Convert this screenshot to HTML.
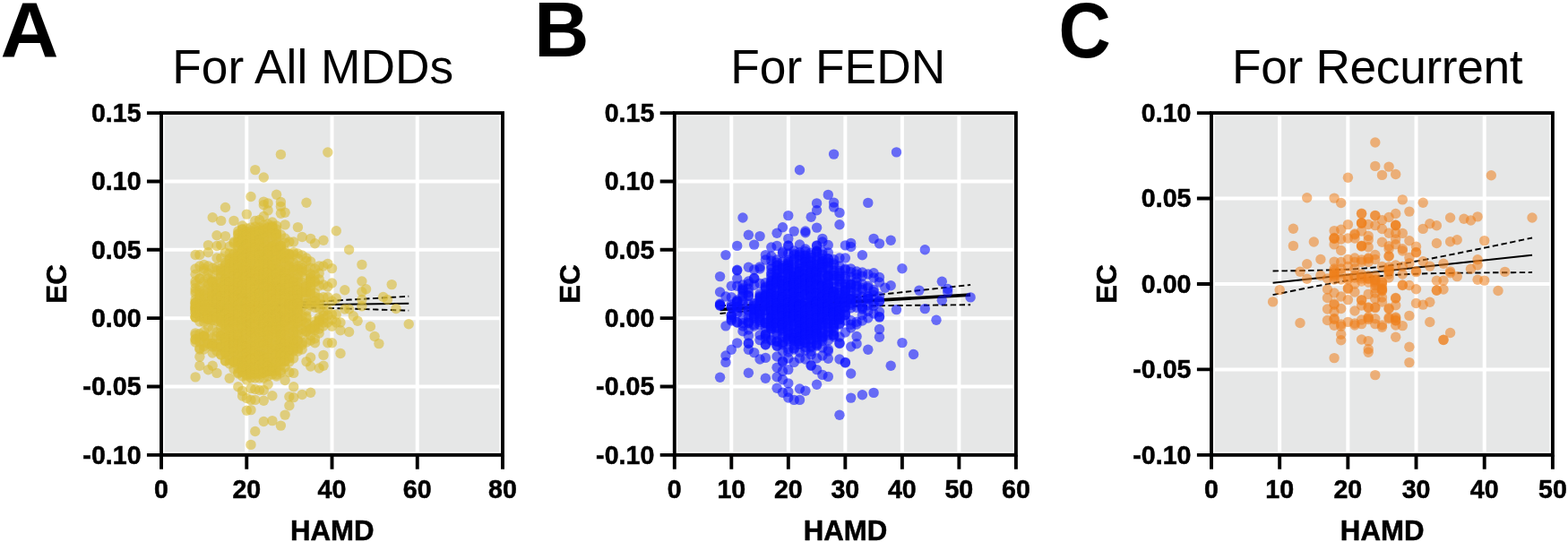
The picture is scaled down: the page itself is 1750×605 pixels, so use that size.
<!DOCTYPE html>
<html lang="en"><head><meta charset="utf-8"><title>EC vs HAMD</title>
<style>html,body{margin:0;padding:0;background:#fff}body{width:1750px;height:605px;overflow:hidden}svg{display:block}</style>
</head><body>
<svg width="1750" height="605" viewBox="0 0 1750 605" font-family='"Liberation Sans", sans-serif'>
<rect width="1750" height="605" fill="#fff"/>
<g id="panelA">
<rect x="183.45" y="129.50" width="374.15" height="374.95" fill="#e6e7e7"/>
<path d="M275.29 126.10V507.85M370.52 126.10V507.85M465.76 126.10V507.85M180.05 431.50H561.00M180.05 355.15H561.00M180.05 278.80H561.00M180.05 202.45H561.00" stroke="#fff" stroke-width="4" fill="none"/>
<path d="M218.15 341.93 L456.24 338.70" stroke="#000" stroke-width="2.0" fill="none"/>
<path d="M218.15 338.56 L224.10 338.72 L230.05 338.87 L236.00 339.02 L241.95 339.16 L247.91 339.29 L253.86 339.40 L259.81 339.50 L265.76 339.57 L271.72 339.61 L277.67 339.60 L283.62 339.56 L289.57 339.46 L295.53 339.32 L301.48 339.14 L307.43 338.92 L313.38 338.67 L319.33 338.40 L325.29 338.12 L331.24 337.82 L337.19 337.51 L343.14 337.20 L349.10 336.88 L355.05 336.56 L361.00 336.23 L366.95 335.90 L372.91 335.57 L378.86 335.23 L384.81 334.89 L390.76 334.56 L396.72 334.22 L402.67 333.88 L408.62 333.53 L414.57 333.19 L420.52 332.85 L426.48 332.51 L432.43 332.16 L438.38 331.82 L444.33 331.47 L450.29 331.13 L456.24 330.78" stroke="#000" stroke-width="1.9" fill="none" stroke-dasharray="6.4 3.5"/>
<path d="M218.15 345.30 L224.10 344.98 L230.05 344.66 L236.00 344.35 L241.95 344.05 L247.91 343.76 L253.86 343.48 L259.81 343.23 L265.76 343.00 L271.72 342.80 L277.67 342.64 L283.62 342.52 L289.57 342.46 L295.53 342.44 L301.48 342.46 L307.43 342.52 L313.38 342.61 L319.33 342.71 L325.29 342.84 L331.24 342.97 L337.19 343.12 L343.14 343.27 L349.10 343.43 L355.05 343.59 L361.00 343.76 L366.95 343.93 L372.91 344.10 L378.86 344.27 L384.81 344.45 L390.76 344.62 L396.72 344.80 L402.67 344.98 L408.62 345.16 L414.57 345.34 L420.52 345.53 L426.48 345.71 L432.43 345.89 L438.38 346.07 L444.33 346.26 L450.29 346.44 L456.24 346.63" stroke="#000" stroke-width="1.9" fill="none" stroke-dasharray="6.4 3.5"/>
<g fill="#dbbc36" fill-opacity="0.6"><circle cx="218.1" cy="300.0" r="5.7"/><circle cx="218.1" cy="306.3" r="5.7"/><circle cx="218.1" cy="314.0" r="5.7"/><circle cx="218.1" cy="316.7" r="5.7"/><circle cx="218.1" cy="321.8" r="5.7"/><circle cx="218.1" cy="325.0" r="5.7"/><circle cx="218.1" cy="327.7" r="5.7"/><circle cx="218.1" cy="334.5" r="5.7"/><circle cx="218.1" cy="337.9" r="5.7"/><circle cx="218.1" cy="338.0" r="5.7"/><circle cx="218.1" cy="341.9" r="5.7"/><circle cx="218.1" cy="342.9" r="5.7"/><circle cx="218.1" cy="345.1" r="5.7"/><circle cx="218.1" cy="345.5" r="5.7"/><circle cx="218.1" cy="349.5" r="5.7"/><circle cx="218.1" cy="353.8" r="5.7"/><circle cx="218.1" cy="354.0" r="5.7"/><circle cx="218.1" cy="354.1" r="5.7"/><circle cx="218.1" cy="371.9" r="5.7"/><circle cx="218.1" cy="374.0" r="5.7"/><circle cx="218.1" cy="378.5" r="5.7"/><circle cx="218.1" cy="382.0" r="5.7"/><circle cx="222.9" cy="297.0" r="5.7"/><circle cx="222.9" cy="310.9" r="5.7"/><circle cx="222.9" cy="311.0" r="5.7"/><circle cx="222.9" cy="319.9" r="5.7"/><circle cx="222.9" cy="324.4" r="5.7"/><circle cx="222.9" cy="328.0" r="5.7"/><circle cx="222.9" cy="329.9" r="5.7"/><circle cx="222.9" cy="332.5" r="5.7"/><circle cx="222.9" cy="334.2" r="5.7"/><circle cx="222.9" cy="339.2" r="5.7"/><circle cx="222.9" cy="342.1" r="5.7"/><circle cx="222.9" cy="342.8" r="5.7"/><circle cx="222.9" cy="344.2" r="5.7"/><circle cx="222.9" cy="345.7" r="5.7"/><circle cx="222.9" cy="353.2" r="5.7"/><circle cx="222.9" cy="359.0" r="5.7"/><circle cx="222.9" cy="372.8" r="5.7"/><circle cx="222.9" cy="377.4" r="5.7"/><circle cx="222.9" cy="382.0" r="5.7"/><circle cx="222.9" cy="388.7" r="5.7"/><circle cx="222.9" cy="390.0" r="5.7"/><circle cx="227.7" cy="300.0" r="5.7"/><circle cx="227.7" cy="302.5" r="5.7"/><circle cx="227.7" cy="314.0" r="5.7"/><circle cx="227.7" cy="324.5" r="5.7"/><circle cx="227.7" cy="328.5" r="5.7"/><circle cx="227.7" cy="333.4" r="5.7"/><circle cx="227.7" cy="338.2" r="5.7"/><circle cx="227.7" cy="343.9" r="5.7"/><circle cx="227.7" cy="344.9" r="5.7"/><circle cx="227.7" cy="346.9" r="5.7"/><circle cx="227.7" cy="347.8" r="5.7"/><circle cx="227.7" cy="351.8" r="5.7"/><circle cx="227.7" cy="354.0" r="5.7"/><circle cx="227.7" cy="355.5" r="5.7"/><circle cx="227.7" cy="359.4" r="5.7"/><circle cx="227.7" cy="370.2" r="5.7"/><circle cx="227.7" cy="374.4" r="5.7"/><circle cx="227.7" cy="375.5" r="5.7"/><circle cx="227.7" cy="375.5" r="5.7"/><circle cx="227.7" cy="382.0" r="5.7"/><circle cx="227.7" cy="386.5" r="5.7"/><circle cx="227.7" cy="390.0" r="5.7"/><circle cx="232.4" cy="297.0" r="5.7"/><circle cx="232.4" cy="305.0" r="5.7"/><circle cx="232.4" cy="311.0" r="5.7"/><circle cx="232.4" cy="315.9" r="5.7"/><circle cx="232.4" cy="317.9" r="5.7"/><circle cx="232.4" cy="323.3" r="5.7"/><circle cx="232.4" cy="327.3" r="5.7"/><circle cx="232.4" cy="332.6" r="5.7"/><circle cx="232.4" cy="336.6" r="5.7"/><circle cx="232.4" cy="338.6" r="5.7"/><circle cx="232.4" cy="340.0" r="5.7"/><circle cx="232.4" cy="341.0" r="5.7"/><circle cx="232.4" cy="343.5" r="5.7"/><circle cx="232.4" cy="344.6" r="5.7"/><circle cx="232.4" cy="351.6" r="5.7"/><circle cx="232.4" cy="352.0" r="5.7"/><circle cx="232.4" cy="353.0" r="5.7"/><circle cx="232.4" cy="354.4" r="5.7"/><circle cx="232.4" cy="356.1" r="5.7"/><circle cx="232.4" cy="356.6" r="5.7"/><circle cx="232.4" cy="364.8" r="5.7"/><circle cx="232.4" cy="376.0" r="5.7"/><circle cx="232.4" cy="382.9" r="5.7"/><circle cx="232.4" cy="384.0" r="5.7"/><circle cx="237.2" cy="299.0" r="5.7"/><circle cx="237.2" cy="307.0" r="5.7"/><circle cx="237.2" cy="313.0" r="5.7"/><circle cx="237.2" cy="314.6" r="5.7"/><circle cx="237.2" cy="314.9" r="5.7"/><circle cx="237.2" cy="315.3" r="5.7"/><circle cx="237.2" cy="320.8" r="5.7"/><circle cx="237.2" cy="324.9" r="5.7"/><circle cx="237.2" cy="327.6" r="5.7"/><circle cx="237.2" cy="330.4" r="5.7"/><circle cx="237.2" cy="330.5" r="5.7"/><circle cx="237.2" cy="333.7" r="5.7"/><circle cx="237.2" cy="334.8" r="5.7"/><circle cx="237.2" cy="340.0" r="5.7"/><circle cx="237.2" cy="343.6" r="5.7"/><circle cx="237.2" cy="344.9" r="5.7"/><circle cx="237.2" cy="347.9" r="5.7"/><circle cx="237.2" cy="354.3" r="5.7"/><circle cx="237.2" cy="356.0" r="5.7"/><circle cx="237.2" cy="366.5" r="5.7"/><circle cx="237.2" cy="377.2" r="5.7"/><circle cx="237.2" cy="383.5" r="5.7"/><circle cx="237.2" cy="383.6" r="5.7"/><circle cx="237.2" cy="386.0" r="5.7"/><circle cx="237.2" cy="387.1" r="5.7"/><circle cx="237.2" cy="394.0" r="5.7"/><circle cx="242.0" cy="288.0" r="5.7"/><circle cx="242.0" cy="298.2" r="5.7"/><circle cx="242.0" cy="302.0" r="5.7"/><circle cx="242.0" cy="314.3" r="5.7"/><circle cx="242.0" cy="318.9" r="5.7"/><circle cx="242.0" cy="321.2" r="5.7"/><circle cx="242.0" cy="321.8" r="5.7"/><circle cx="242.0" cy="322.6" r="5.7"/><circle cx="242.0" cy="324.7" r="5.7"/><circle cx="242.0" cy="327.9" r="5.7"/><circle cx="242.0" cy="328.4" r="5.7"/><circle cx="242.0" cy="328.5" r="5.7"/><circle cx="242.0" cy="329.5" r="5.7"/><circle cx="242.0" cy="332.6" r="5.7"/><circle cx="242.0" cy="333.3" r="5.7"/><circle cx="242.0" cy="334.1" r="5.7"/><circle cx="242.0" cy="335.1" r="5.7"/><circle cx="242.0" cy="335.6" r="5.7"/><circle cx="242.0" cy="337.8" r="5.7"/><circle cx="242.0" cy="340.0" r="5.7"/><circle cx="242.0" cy="343.8" r="5.7"/><circle cx="242.0" cy="349.9" r="5.7"/><circle cx="242.0" cy="353.5" r="5.7"/><circle cx="242.0" cy="353.7" r="5.7"/><circle cx="242.0" cy="358.3" r="5.7"/><circle cx="242.0" cy="370.7" r="5.7"/><circle cx="242.0" cy="375.4" r="5.7"/><circle cx="242.0" cy="384.0" r="5.7"/><circle cx="242.0" cy="387.1" r="5.7"/><circle cx="242.0" cy="392.0" r="5.7"/><circle cx="246.7" cy="288.0" r="5.7"/><circle cx="246.7" cy="299.7" r="5.7"/><circle cx="246.7" cy="302.0" r="5.7"/><circle cx="246.7" cy="305.3" r="5.7"/><circle cx="246.7" cy="308.1" r="5.7"/><circle cx="246.7" cy="309.9" r="5.7"/><circle cx="246.7" cy="315.1" r="5.7"/><circle cx="246.7" cy="320.5" r="5.7"/><circle cx="246.7" cy="321.4" r="5.7"/><circle cx="246.7" cy="324.6" r="5.7"/><circle cx="246.7" cy="330.6" r="5.7"/><circle cx="246.7" cy="330.6" r="5.7"/><circle cx="246.7" cy="331.1" r="5.7"/><circle cx="246.7" cy="335.8" r="5.7"/><circle cx="246.7" cy="338.9" r="5.7"/><circle cx="246.7" cy="340.8" r="5.7"/><circle cx="246.7" cy="341.0" r="5.7"/><circle cx="246.7" cy="341.5" r="5.7"/><circle cx="246.7" cy="343.2" r="5.7"/><circle cx="246.7" cy="345.9" r="5.7"/><circle cx="246.7" cy="348.2" r="5.7"/><circle cx="246.7" cy="349.6" r="5.7"/><circle cx="246.7" cy="350.4" r="5.7"/><circle cx="246.7" cy="351.2" r="5.7"/><circle cx="246.7" cy="353.2" r="5.7"/><circle cx="246.7" cy="354.0" r="5.7"/><circle cx="246.7" cy="357.4" r="5.7"/><circle cx="246.7" cy="359.8" r="5.7"/><circle cx="246.7" cy="359.9" r="5.7"/><circle cx="246.7" cy="365.2" r="5.7"/><circle cx="246.7" cy="370.8" r="5.7"/><circle cx="246.7" cy="374.6" r="5.7"/><circle cx="246.7" cy="375.2" r="5.7"/><circle cx="246.7" cy="380.0" r="5.7"/><circle cx="246.7" cy="385.8" r="5.7"/><circle cx="246.7" cy="387.8" r="5.7"/><circle cx="246.7" cy="388.0" r="5.7"/><circle cx="246.7" cy="395.9" r="5.7"/><circle cx="246.7" cy="396.0" r="5.7"/><circle cx="251.5" cy="282.0" r="5.7"/><circle cx="251.5" cy="293.2" r="5.7"/><circle cx="251.5" cy="296.0" r="5.7"/><circle cx="251.5" cy="298.1" r="5.7"/><circle cx="251.5" cy="302.5" r="5.7"/><circle cx="251.5" cy="306.9" r="5.7"/><circle cx="251.5" cy="311.7" r="5.7"/><circle cx="251.5" cy="312.0" r="5.7"/><circle cx="251.5" cy="314.7" r="5.7"/><circle cx="251.5" cy="318.1" r="5.7"/><circle cx="251.5" cy="318.5" r="5.7"/><circle cx="251.5" cy="323.3" r="5.7"/><circle cx="251.5" cy="323.7" r="5.7"/><circle cx="251.5" cy="326.6" r="5.7"/><circle cx="251.5" cy="330.3" r="5.7"/><circle cx="251.5" cy="333.1" r="5.7"/><circle cx="251.5" cy="336.6" r="5.7"/><circle cx="251.5" cy="336.8" r="5.7"/><circle cx="251.5" cy="338.4" r="5.7"/><circle cx="251.5" cy="342.4" r="5.7"/><circle cx="251.5" cy="347.5" r="5.7"/><circle cx="251.5" cy="347.8" r="5.7"/><circle cx="251.5" cy="349.2" r="5.7"/><circle cx="251.5" cy="349.7" r="5.7"/><circle cx="251.5" cy="350.1" r="5.7"/><circle cx="251.5" cy="350.7" r="5.7"/><circle cx="251.5" cy="351.0" r="5.7"/><circle cx="251.5" cy="351.6" r="5.7"/><circle cx="251.5" cy="357.2" r="5.7"/><circle cx="251.5" cy="357.3" r="5.7"/><circle cx="251.5" cy="357.4" r="5.7"/><circle cx="251.5" cy="359.2" r="5.7"/><circle cx="251.5" cy="362.3" r="5.7"/><circle cx="251.5" cy="363.3" r="5.7"/><circle cx="251.5" cy="367.6" r="5.7"/><circle cx="251.5" cy="371.2" r="5.7"/><circle cx="251.5" cy="376.9" r="5.7"/><circle cx="251.5" cy="377.5" r="5.7"/><circle cx="251.5" cy="378.4" r="5.7"/><circle cx="251.5" cy="379.9" r="5.7"/><circle cx="251.5" cy="382.3" r="5.7"/><circle cx="251.5" cy="383.0" r="5.7"/><circle cx="251.5" cy="387.1" r="5.7"/><circle cx="251.5" cy="393.0" r="5.7"/><circle cx="251.5" cy="393.1" r="5.7"/><circle cx="251.5" cy="395.0" r="5.7"/><circle cx="251.5" cy="402.6" r="5.7"/><circle cx="251.5" cy="403.0" r="5.7"/><circle cx="256.2" cy="275.0" r="5.7"/><circle cx="256.2" cy="282.9" r="5.7"/><circle cx="256.2" cy="288.7" r="5.7"/><circle cx="256.2" cy="289.0" r="5.7"/><circle cx="256.2" cy="291.9" r="5.7"/><circle cx="256.2" cy="294.9" r="5.7"/><circle cx="256.2" cy="298.8" r="5.7"/><circle cx="256.2" cy="299.7" r="5.7"/><circle cx="256.2" cy="303.1" r="5.7"/><circle cx="256.2" cy="303.4" r="5.7"/><circle cx="256.2" cy="310.1" r="5.7"/><circle cx="256.2" cy="314.1" r="5.7"/><circle cx="256.2" cy="314.4" r="5.7"/><circle cx="256.2" cy="314.8" r="5.7"/><circle cx="256.2" cy="314.9" r="5.7"/><circle cx="256.2" cy="316.8" r="5.7"/><circle cx="256.2" cy="320.0" r="5.7"/><circle cx="256.2" cy="323.4" r="5.7"/><circle cx="256.2" cy="324.0" r="5.7"/><circle cx="256.2" cy="327.7" r="5.7"/><circle cx="256.2" cy="327.8" r="5.7"/><circle cx="256.2" cy="329.1" r="5.7"/><circle cx="256.2" cy="330.2" r="5.7"/><circle cx="256.2" cy="334.8" r="5.7"/><circle cx="256.2" cy="338.2" r="5.7"/><circle cx="256.2" cy="338.5" r="5.7"/><circle cx="256.2" cy="342.1" r="5.7"/><circle cx="256.2" cy="342.2" r="5.7"/><circle cx="256.2" cy="343.6" r="5.7"/><circle cx="256.2" cy="349.5" r="5.7"/><circle cx="256.2" cy="349.8" r="5.7"/><circle cx="256.2" cy="352.0" r="5.7"/><circle cx="256.2" cy="354.9" r="5.7"/><circle cx="256.2" cy="355.3" r="5.7"/><circle cx="256.2" cy="355.3" r="5.7"/><circle cx="256.2" cy="355.6" r="5.7"/><circle cx="256.2" cy="355.7" r="5.7"/><circle cx="256.2" cy="359.2" r="5.7"/><circle cx="256.2" cy="360.2" r="5.7"/><circle cx="256.2" cy="360.5" r="5.7"/><circle cx="256.2" cy="362.1" r="5.7"/><circle cx="256.2" cy="363.4" r="5.7"/><circle cx="256.2" cy="367.3" r="5.7"/><circle cx="256.2" cy="367.9" r="5.7"/><circle cx="256.2" cy="369.3" r="5.7"/><circle cx="256.2" cy="375.0" r="5.7"/><circle cx="256.2" cy="379.3" r="5.7"/><circle cx="256.2" cy="384.8" r="5.7"/><circle cx="256.2" cy="385.7" r="5.7"/><circle cx="256.2" cy="388.6" r="5.7"/><circle cx="256.2" cy="389.7" r="5.7"/><circle cx="256.2" cy="393.3" r="5.7"/><circle cx="256.2" cy="398.0" r="5.7"/><circle cx="256.2" cy="401.9" r="5.7"/><circle cx="256.2" cy="406.0" r="5.7"/><circle cx="261.0" cy="270.0" r="5.7"/><circle cx="261.0" cy="271.5" r="5.7"/><circle cx="261.0" cy="282.8" r="5.7"/><circle cx="261.0" cy="284.0" r="5.7"/><circle cx="261.0" cy="287.7" r="5.7"/><circle cx="261.0" cy="289.7" r="5.7"/><circle cx="261.0" cy="292.4" r="5.7"/><circle cx="261.0" cy="292.5" r="5.7"/><circle cx="261.0" cy="295.4" r="5.7"/><circle cx="261.0" cy="298.8" r="5.7"/><circle cx="261.0" cy="300.7" r="5.7"/><circle cx="261.0" cy="303.0" r="5.7"/><circle cx="261.0" cy="308.1" r="5.7"/><circle cx="261.0" cy="312.0" r="5.7"/><circle cx="261.0" cy="313.3" r="5.7"/><circle cx="261.0" cy="318.8" r="5.7"/><circle cx="261.0" cy="321.5" r="5.7"/><circle cx="261.0" cy="323.2" r="5.7"/><circle cx="261.0" cy="323.6" r="5.7"/><circle cx="261.0" cy="323.9" r="5.7"/><circle cx="261.0" cy="327.9" r="5.7"/><circle cx="261.0" cy="329.3" r="5.7"/><circle cx="261.0" cy="329.5" r="5.7"/><circle cx="261.0" cy="332.5" r="5.7"/><circle cx="261.0" cy="332.5" r="5.7"/><circle cx="261.0" cy="332.7" r="5.7"/><circle cx="261.0" cy="333.2" r="5.7"/><circle cx="261.0" cy="335.4" r="5.7"/><circle cx="261.0" cy="337.1" r="5.7"/><circle cx="261.0" cy="340.9" r="5.7"/><circle cx="261.0" cy="342.4" r="5.7"/><circle cx="261.0" cy="344.5" r="5.7"/><circle cx="261.0" cy="346.6" r="5.7"/><circle cx="261.0" cy="351.9" r="5.7"/><circle cx="261.0" cy="355.0" r="5.7"/><circle cx="261.0" cy="357.4" r="5.7"/><circle cx="261.0" cy="358.4" r="5.7"/><circle cx="261.0" cy="358.9" r="5.7"/><circle cx="261.0" cy="359.5" r="5.7"/><circle cx="261.0" cy="361.7" r="5.7"/><circle cx="261.0" cy="367.1" r="5.7"/><circle cx="261.0" cy="373.0" r="5.7"/><circle cx="261.0" cy="373.6" r="5.7"/><circle cx="261.0" cy="374.0" r="5.7"/><circle cx="261.0" cy="376.1" r="5.7"/><circle cx="261.0" cy="377.8" r="5.7"/><circle cx="261.0" cy="380.2" r="5.7"/><circle cx="261.0" cy="380.6" r="5.7"/><circle cx="261.0" cy="381.8" r="5.7"/><circle cx="261.0" cy="382.7" r="5.7"/><circle cx="261.0" cy="384.6" r="5.7"/><circle cx="261.0" cy="384.9" r="5.7"/><circle cx="261.0" cy="385.3" r="5.7"/><circle cx="261.0" cy="387.3" r="5.7"/><circle cx="261.0" cy="388.8" r="5.7"/><circle cx="261.0" cy="389.6" r="5.7"/><circle cx="261.0" cy="392.3" r="5.7"/><circle cx="261.0" cy="392.8" r="5.7"/><circle cx="261.0" cy="398.8" r="5.7"/><circle cx="261.0" cy="403.0" r="5.7"/><circle cx="261.0" cy="404.0" r="5.7"/><circle cx="261.0" cy="404.3" r="5.7"/><circle cx="261.0" cy="412.0" r="5.7"/><circle cx="265.8" cy="258.0" r="5.7"/><circle cx="265.8" cy="260.8" r="5.7"/><circle cx="265.8" cy="262.0" r="5.7"/><circle cx="265.8" cy="266.1" r="5.7"/><circle cx="265.8" cy="269.7" r="5.7"/><circle cx="265.8" cy="270.7" r="5.7"/><circle cx="265.8" cy="274.9" r="5.7"/><circle cx="265.8" cy="279.1" r="5.7"/><circle cx="265.8" cy="281.6" r="5.7"/><circle cx="265.8" cy="285.8" r="5.7"/><circle cx="265.8" cy="286.5" r="5.7"/><circle cx="265.8" cy="291.4" r="5.7"/><circle cx="265.8" cy="294.4" r="5.7"/><circle cx="265.8" cy="295.8" r="5.7"/><circle cx="265.8" cy="297.5" r="5.7"/><circle cx="265.8" cy="298.3" r="5.7"/><circle cx="265.8" cy="299.4" r="5.7"/><circle cx="265.8" cy="304.9" r="5.7"/><circle cx="265.8" cy="305.0" r="5.7"/><circle cx="265.8" cy="306.0" r="5.7"/><circle cx="265.8" cy="306.1" r="5.7"/><circle cx="265.8" cy="308.9" r="5.7"/><circle cx="265.8" cy="309.3" r="5.7"/><circle cx="265.8" cy="310.3" r="5.7"/><circle cx="265.8" cy="315.5" r="5.7"/><circle cx="265.8" cy="315.8" r="5.7"/><circle cx="265.8" cy="317.0" r="5.7"/><circle cx="265.8" cy="319.5" r="5.7"/><circle cx="265.8" cy="320.1" r="5.7"/><circle cx="265.8" cy="321.0" r="5.7"/><circle cx="265.8" cy="322.6" r="5.7"/><circle cx="265.8" cy="324.5" r="5.7"/><circle cx="265.8" cy="324.7" r="5.7"/><circle cx="265.8" cy="325.6" r="5.7"/><circle cx="265.8" cy="329.5" r="5.7"/><circle cx="265.8" cy="329.9" r="5.7"/><circle cx="265.8" cy="331.8" r="5.7"/><circle cx="265.8" cy="334.5" r="5.7"/><circle cx="265.8" cy="334.6" r="5.7"/><circle cx="265.8" cy="340.3" r="5.7"/><circle cx="265.8" cy="340.9" r="5.7"/><circle cx="265.8" cy="341.1" r="5.7"/><circle cx="265.8" cy="345.6" r="5.7"/><circle cx="265.8" cy="346.2" r="5.7"/><circle cx="265.8" cy="349.5" r="5.7"/><circle cx="265.8" cy="350.8" r="5.7"/><circle cx="265.8" cy="351.1" r="5.7"/><circle cx="265.8" cy="352.6" r="5.7"/><circle cx="265.8" cy="355.2" r="5.7"/><circle cx="265.8" cy="358.2" r="5.7"/><circle cx="265.8" cy="360.4" r="5.7"/><circle cx="265.8" cy="364.8" r="5.7"/><circle cx="265.8" cy="368.1" r="5.7"/><circle cx="265.8" cy="370.1" r="5.7"/><circle cx="265.8" cy="372.7" r="5.7"/><circle cx="265.8" cy="373.5" r="5.7"/><circle cx="265.8" cy="376.1" r="5.7"/><circle cx="265.8" cy="377.1" r="5.7"/><circle cx="265.8" cy="381.3" r="5.7"/><circle cx="265.8" cy="383.7" r="5.7"/><circle cx="265.8" cy="383.8" r="5.7"/><circle cx="265.8" cy="384.5" r="5.7"/><circle cx="265.8" cy="389.6" r="5.7"/><circle cx="265.8" cy="396.2" r="5.7"/><circle cx="265.8" cy="400.8" r="5.7"/><circle cx="265.8" cy="401.7" r="5.7"/><circle cx="265.8" cy="403.9" r="5.7"/><circle cx="265.8" cy="406.1" r="5.7"/><circle cx="265.8" cy="411.0" r="5.7"/><circle cx="265.8" cy="415.9" r="5.7"/><circle cx="265.8" cy="417.0" r="5.7"/><circle cx="270.5" cy="252.0" r="5.7"/><circle cx="270.5" cy="255.9" r="5.7"/><circle cx="270.5" cy="256.0" r="5.7"/><circle cx="270.5" cy="262.3" r="5.7"/><circle cx="270.5" cy="266.7" r="5.7"/><circle cx="270.5" cy="268.0" r="5.7"/><circle cx="270.5" cy="269.4" r="5.7"/><circle cx="270.5" cy="272.2" r="5.7"/><circle cx="270.5" cy="276.4" r="5.7"/><circle cx="270.5" cy="278.7" r="5.7"/><circle cx="270.5" cy="279.6" r="5.7"/><circle cx="270.5" cy="281.2" r="5.7"/><circle cx="270.5" cy="283.9" r="5.7"/><circle cx="270.5" cy="287.4" r="5.7"/><circle cx="270.5" cy="287.7" r="5.7"/><circle cx="270.5" cy="289.5" r="5.7"/><circle cx="270.5" cy="292.0" r="5.7"/><circle cx="270.5" cy="295.2" r="5.7"/><circle cx="270.5" cy="296.6" r="5.7"/><circle cx="270.5" cy="300.1" r="5.7"/><circle cx="270.5" cy="301.7" r="5.7"/><circle cx="270.5" cy="303.2" r="5.7"/><circle cx="270.5" cy="304.2" r="5.7"/><circle cx="270.5" cy="307.1" r="5.7"/><circle cx="270.5" cy="312.1" r="5.7"/><circle cx="270.5" cy="313.9" r="5.7"/><circle cx="270.5" cy="317.6" r="5.7"/><circle cx="270.5" cy="317.7" r="5.7"/><circle cx="270.5" cy="319.0" r="5.7"/><circle cx="270.5" cy="321.4" r="5.7"/><circle cx="270.5" cy="323.6" r="5.7"/><circle cx="270.5" cy="324.1" r="5.7"/><circle cx="270.5" cy="325.2" r="5.7"/><circle cx="270.5" cy="327.4" r="5.7"/><circle cx="270.5" cy="328.8" r="5.7"/><circle cx="270.5" cy="330.9" r="5.7"/><circle cx="270.5" cy="332.0" r="5.7"/><circle cx="270.5" cy="332.6" r="5.7"/><circle cx="270.5" cy="333.1" r="5.7"/><circle cx="270.5" cy="336.1" r="5.7"/><circle cx="270.5" cy="337.0" r="5.7"/><circle cx="270.5" cy="337.5" r="5.7"/><circle cx="270.5" cy="342.3" r="5.7"/><circle cx="270.5" cy="345.9" r="5.7"/><circle cx="270.5" cy="347.4" r="5.7"/><circle cx="270.5" cy="349.2" r="5.7"/><circle cx="270.5" cy="352.5" r="5.7"/><circle cx="270.5" cy="357.7" r="5.7"/><circle cx="270.5" cy="358.5" r="5.7"/><circle cx="270.5" cy="358.8" r="5.7"/><circle cx="270.5" cy="362.0" r="5.7"/><circle cx="270.5" cy="363.6" r="5.7"/><circle cx="270.5" cy="364.3" r="5.7"/><circle cx="270.5" cy="365.6" r="5.7"/><circle cx="270.5" cy="366.7" r="5.7"/><circle cx="270.5" cy="372.1" r="5.7"/><circle cx="270.5" cy="377.3" r="5.7"/><circle cx="270.5" cy="380.5" r="5.7"/><circle cx="270.5" cy="381.4" r="5.7"/><circle cx="270.5" cy="383.1" r="5.7"/><circle cx="270.5" cy="384.1" r="5.7"/><circle cx="270.5" cy="385.6" r="5.7"/><circle cx="270.5" cy="386.4" r="5.7"/><circle cx="270.5" cy="388.1" r="5.7"/><circle cx="270.5" cy="390.8" r="5.7"/><circle cx="270.5" cy="395.2" r="5.7"/><circle cx="270.5" cy="397.2" r="5.7"/><circle cx="270.5" cy="398.2" r="5.7"/><circle cx="270.5" cy="402.8" r="5.7"/><circle cx="270.5" cy="404.5" r="5.7"/><circle cx="270.5" cy="406.3" r="5.7"/><circle cx="270.5" cy="408.7" r="5.7"/><circle cx="270.5" cy="410.8" r="5.7"/><circle cx="270.5" cy="412.3" r="5.7"/><circle cx="270.5" cy="414.0" r="5.7"/><circle cx="270.5" cy="415.3" r="5.7"/><circle cx="270.5" cy="420.0" r="5.7"/><circle cx="275.3" cy="255.0" r="5.7"/><circle cx="275.3" cy="259.0" r="5.7"/><circle cx="275.3" cy="259.2" r="5.7"/><circle cx="275.3" cy="261.7" r="5.7"/><circle cx="275.3" cy="262.4" r="5.7"/><circle cx="275.3" cy="264.8" r="5.7"/><circle cx="275.3" cy="268.2" r="5.7"/><circle cx="275.3" cy="272.1" r="5.7"/><circle cx="275.3" cy="273.1" r="5.7"/><circle cx="275.3" cy="273.5" r="5.7"/><circle cx="275.3" cy="274.4" r="5.7"/><circle cx="275.3" cy="277.2" r="5.7"/><circle cx="275.3" cy="283.0" r="5.7"/><circle cx="275.3" cy="283.9" r="5.7"/><circle cx="275.3" cy="284.0" r="5.7"/><circle cx="275.3" cy="287.6" r="5.7"/><circle cx="275.3" cy="292.6" r="5.7"/><circle cx="275.3" cy="293.9" r="5.7"/><circle cx="275.3" cy="295.6" r="5.7"/><circle cx="275.3" cy="297.0" r="5.7"/><circle cx="275.3" cy="299.0" r="5.7"/><circle cx="275.3" cy="301.4" r="5.7"/><circle cx="275.3" cy="302.6" r="5.7"/><circle cx="275.3" cy="306.9" r="5.7"/><circle cx="275.3" cy="308.0" r="5.7"/><circle cx="275.3" cy="308.6" r="5.7"/><circle cx="275.3" cy="309.6" r="5.7"/><circle cx="275.3" cy="313.6" r="5.7"/><circle cx="275.3" cy="317.7" r="5.7"/><circle cx="275.3" cy="323.5" r="5.7"/><circle cx="275.3" cy="325.3" r="5.7"/><circle cx="275.3" cy="327.1" r="5.7"/><circle cx="275.3" cy="332.8" r="5.7"/><circle cx="275.3" cy="336.2" r="5.7"/><circle cx="275.3" cy="336.2" r="5.7"/><circle cx="275.3" cy="337.1" r="5.7"/><circle cx="275.3" cy="337.9" r="5.7"/><circle cx="275.3" cy="338.0" r="5.7"/><circle cx="275.3" cy="341.0" r="5.7"/><circle cx="275.3" cy="341.9" r="5.7"/><circle cx="275.3" cy="344.2" r="5.7"/><circle cx="275.3" cy="344.8" r="5.7"/><circle cx="275.3" cy="345.3" r="5.7"/><circle cx="275.3" cy="348.9" r="5.7"/><circle cx="275.3" cy="350.0" r="5.7"/><circle cx="275.3" cy="350.9" r="5.7"/><circle cx="275.3" cy="351.0" r="5.7"/><circle cx="275.3" cy="353.4" r="5.7"/><circle cx="275.3" cy="353.6" r="5.7"/><circle cx="275.3" cy="355.6" r="5.7"/><circle cx="275.3" cy="356.9" r="5.7"/><circle cx="275.3" cy="359.3" r="5.7"/><circle cx="275.3" cy="360.3" r="5.7"/><circle cx="275.3" cy="362.8" r="5.7"/><circle cx="275.3" cy="363.0" r="5.7"/><circle cx="275.3" cy="365.7" r="5.7"/><circle cx="275.3" cy="368.6" r="5.7"/><circle cx="275.3" cy="372.4" r="5.7"/><circle cx="275.3" cy="372.4" r="5.7"/><circle cx="275.3" cy="378.2" r="5.7"/><circle cx="275.3" cy="383.0" r="5.7"/><circle cx="275.3" cy="386.4" r="5.7"/><circle cx="275.3" cy="386.8" r="5.7"/><circle cx="275.3" cy="386.9" r="5.7"/><circle cx="275.3" cy="388.9" r="5.7"/><circle cx="275.3" cy="393.5" r="5.7"/><circle cx="275.3" cy="393.9" r="5.7"/><circle cx="275.3" cy="394.2" r="5.7"/><circle cx="275.3" cy="395.3" r="5.7"/><circle cx="275.3" cy="398.8" r="5.7"/><circle cx="275.3" cy="402.4" r="5.7"/><circle cx="275.3" cy="404.4" r="5.7"/><circle cx="275.3" cy="408.3" r="5.7"/><circle cx="275.3" cy="411.2" r="5.7"/><circle cx="275.3" cy="412.6" r="5.7"/><circle cx="275.3" cy="418.0" r="5.7"/><circle cx="275.3" cy="419.2" r="5.7"/><circle cx="275.3" cy="424.0" r="5.7"/><circle cx="280.0" cy="254.0" r="5.7"/><circle cx="280.0" cy="258.0" r="5.7"/><circle cx="280.0" cy="260.9" r="5.7"/><circle cx="280.0" cy="261.3" r="5.7"/><circle cx="280.0" cy="265.1" r="5.7"/><circle cx="280.0" cy="271.8" r="5.7"/><circle cx="280.0" cy="272.6" r="5.7"/><circle cx="280.0" cy="275.5" r="5.7"/><circle cx="280.0" cy="280.4" r="5.7"/><circle cx="280.0" cy="282.0" r="5.7"/><circle cx="280.0" cy="283.7" r="5.7"/><circle cx="280.0" cy="285.4" r="5.7"/><circle cx="280.0" cy="286.3" r="5.7"/><circle cx="280.0" cy="289.2" r="5.7"/><circle cx="280.0" cy="291.2" r="5.7"/><circle cx="280.0" cy="294.9" r="5.7"/><circle cx="280.0" cy="296.8" r="5.7"/><circle cx="280.0" cy="300.3" r="5.7"/><circle cx="280.0" cy="303.0" r="5.7"/><circle cx="280.0" cy="303.3" r="5.7"/><circle cx="280.0" cy="305.1" r="5.7"/><circle cx="280.0" cy="306.2" r="5.7"/><circle cx="280.0" cy="310.0" r="5.7"/><circle cx="280.0" cy="310.4" r="5.7"/><circle cx="280.0" cy="311.6" r="5.7"/><circle cx="280.0" cy="313.7" r="5.7"/><circle cx="280.0" cy="314.6" r="5.7"/><circle cx="280.0" cy="314.9" r="5.7"/><circle cx="280.0" cy="315.1" r="5.7"/><circle cx="280.0" cy="318.0" r="5.7"/><circle cx="280.0" cy="320.3" r="5.7"/><circle cx="280.0" cy="323.8" r="5.7"/><circle cx="280.0" cy="327.2" r="5.7"/><circle cx="280.0" cy="332.1" r="5.7"/><circle cx="280.0" cy="335.2" r="5.7"/><circle cx="280.0" cy="336.4" r="5.7"/><circle cx="280.0" cy="336.7" r="5.7"/><circle cx="280.0" cy="336.7" r="5.7"/><circle cx="280.0" cy="340.6" r="5.7"/><circle cx="280.0" cy="343.0" r="5.7"/><circle cx="280.0" cy="343.9" r="5.7"/><circle cx="280.0" cy="346.5" r="5.7"/><circle cx="280.0" cy="346.5" r="5.7"/><circle cx="280.0" cy="346.9" r="5.7"/><circle cx="280.0" cy="349.1" r="5.7"/><circle cx="280.0" cy="351.6" r="5.7"/><circle cx="280.0" cy="352.0" r="5.7"/><circle cx="280.0" cy="353.7" r="5.7"/><circle cx="280.0" cy="354.6" r="5.7"/><circle cx="280.0" cy="355.8" r="5.7"/><circle cx="280.0" cy="357.1" r="5.7"/><circle cx="280.0" cy="360.3" r="5.7"/><circle cx="280.0" cy="360.8" r="5.7"/><circle cx="280.0" cy="361.3" r="5.7"/><circle cx="280.0" cy="362.3" r="5.7"/><circle cx="280.0" cy="362.3" r="5.7"/><circle cx="280.0" cy="366.8" r="5.7"/><circle cx="280.0" cy="368.1" r="5.7"/><circle cx="280.0" cy="369.7" r="5.7"/><circle cx="280.0" cy="369.7" r="5.7"/><circle cx="280.0" cy="369.9" r="5.7"/><circle cx="280.0" cy="371.0" r="5.7"/><circle cx="280.0" cy="375.3" r="5.7"/><circle cx="280.0" cy="378.8" r="5.7"/><circle cx="280.0" cy="381.0" r="5.7"/><circle cx="280.0" cy="385.2" r="5.7"/><circle cx="280.0" cy="387.7" r="5.7"/><circle cx="280.0" cy="390.8" r="5.7"/><circle cx="280.0" cy="396.2" r="5.7"/><circle cx="280.0" cy="400.3" r="5.7"/><circle cx="280.0" cy="400.6" r="5.7"/><circle cx="280.0" cy="400.7" r="5.7"/><circle cx="280.0" cy="401.4" r="5.7"/><circle cx="280.0" cy="406.1" r="5.7"/><circle cx="280.0" cy="410.5" r="5.7"/><circle cx="280.0" cy="413.1" r="5.7"/><circle cx="280.0" cy="413.9" r="5.7"/><circle cx="280.0" cy="416.0" r="5.7"/><circle cx="280.0" cy="416.2" r="5.7"/><circle cx="280.0" cy="418.3" r="5.7"/><circle cx="280.0" cy="422.0" r="5.7"/><circle cx="284.8" cy="253.0" r="5.7"/><circle cx="284.8" cy="257.0" r="5.7"/><circle cx="284.8" cy="259.8" r="5.7"/><circle cx="284.8" cy="263.0" r="5.7"/><circle cx="284.8" cy="265.8" r="5.7"/><circle cx="284.8" cy="268.1" r="5.7"/><circle cx="284.8" cy="269.7" r="5.7"/><circle cx="284.8" cy="272.7" r="5.7"/><circle cx="284.8" cy="276.4" r="5.7"/><circle cx="284.8" cy="276.7" r="5.7"/><circle cx="284.8" cy="279.4" r="5.7"/><circle cx="284.8" cy="280.0" r="5.7"/><circle cx="284.8" cy="284.5" r="5.7"/><circle cx="284.8" cy="291.0" r="5.7"/><circle cx="284.8" cy="295.0" r="5.7"/><circle cx="284.8" cy="301.4" r="5.7"/><circle cx="284.8" cy="302.0" r="5.7"/><circle cx="284.8" cy="303.2" r="5.7"/><circle cx="284.8" cy="304.3" r="5.7"/><circle cx="284.8" cy="305.5" r="5.7"/><circle cx="284.8" cy="306.4" r="5.7"/><circle cx="284.8" cy="311.0" r="5.7"/><circle cx="284.8" cy="313.3" r="5.7"/><circle cx="284.8" cy="313.7" r="5.7"/><circle cx="284.8" cy="314.6" r="5.7"/><circle cx="284.8" cy="318.7" r="5.7"/><circle cx="284.8" cy="321.0" r="5.7"/><circle cx="284.8" cy="321.4" r="5.7"/><circle cx="284.8" cy="322.0" r="5.7"/><circle cx="284.8" cy="323.7" r="5.7"/><circle cx="284.8" cy="324.1" r="5.7"/><circle cx="284.8" cy="326.5" r="5.7"/><circle cx="284.8" cy="326.7" r="5.7"/><circle cx="284.8" cy="330.4" r="5.7"/><circle cx="284.8" cy="331.4" r="5.7"/><circle cx="284.8" cy="334.2" r="5.7"/><circle cx="284.8" cy="334.5" r="5.7"/><circle cx="284.8" cy="339.8" r="5.7"/><circle cx="284.8" cy="340.5" r="5.7"/><circle cx="284.8" cy="345.0" r="5.7"/><circle cx="284.8" cy="347.1" r="5.7"/><circle cx="284.8" cy="347.2" r="5.7"/><circle cx="284.8" cy="347.7" r="5.7"/><circle cx="284.8" cy="351.0" r="5.7"/><circle cx="284.8" cy="352.0" r="5.7"/><circle cx="284.8" cy="352.4" r="5.7"/><circle cx="284.8" cy="352.4" r="5.7"/><circle cx="284.8" cy="354.3" r="5.7"/><circle cx="284.8" cy="354.8" r="5.7"/><circle cx="284.8" cy="359.7" r="5.7"/><circle cx="284.8" cy="362.1" r="5.7"/><circle cx="284.8" cy="363.2" r="5.7"/><circle cx="284.8" cy="363.6" r="5.7"/><circle cx="284.8" cy="364.9" r="5.7"/><circle cx="284.8" cy="365.8" r="5.7"/><circle cx="284.8" cy="367.0" r="5.7"/><circle cx="284.8" cy="370.9" r="5.7"/><circle cx="284.8" cy="371.0" r="5.7"/><circle cx="284.8" cy="373.3" r="5.7"/><circle cx="284.8" cy="376.2" r="5.7"/><circle cx="284.8" cy="377.5" r="5.7"/><circle cx="284.8" cy="380.2" r="5.7"/><circle cx="284.8" cy="385.9" r="5.7"/><circle cx="284.8" cy="386.7" r="5.7"/><circle cx="284.8" cy="390.3" r="5.7"/><circle cx="284.8" cy="391.4" r="5.7"/><circle cx="284.8" cy="394.8" r="5.7"/><circle cx="284.8" cy="395.7" r="5.7"/><circle cx="284.8" cy="399.6" r="5.7"/><circle cx="284.8" cy="399.8" r="5.7"/><circle cx="284.8" cy="400.1" r="5.7"/><circle cx="284.8" cy="400.9" r="5.7"/><circle cx="284.8" cy="405.0" r="5.7"/><circle cx="284.8" cy="408.2" r="5.7"/><circle cx="284.8" cy="410.7" r="5.7"/><circle cx="284.8" cy="411.5" r="5.7"/><circle cx="284.8" cy="412.4" r="5.7"/><circle cx="284.8" cy="415.9" r="5.7"/><circle cx="284.8" cy="416.0" r="5.7"/><circle cx="284.8" cy="418.0" r="5.7"/><circle cx="284.8" cy="422.0" r="5.7"/><circle cx="289.6" cy="254.0" r="5.7"/><circle cx="289.6" cy="256.7" r="5.7"/><circle cx="289.6" cy="258.0" r="5.7"/><circle cx="289.6" cy="261.3" r="5.7"/><circle cx="289.6" cy="267.7" r="5.7"/><circle cx="289.6" cy="268.2" r="5.7"/><circle cx="289.6" cy="269.5" r="5.7"/><circle cx="289.6" cy="270.9" r="5.7"/><circle cx="289.6" cy="272.2" r="5.7"/><circle cx="289.6" cy="277.0" r="5.7"/><circle cx="289.6" cy="282.7" r="5.7"/><circle cx="289.6" cy="284.1" r="5.7"/><circle cx="289.6" cy="284.3" r="5.7"/><circle cx="289.6" cy="285.1" r="5.7"/><circle cx="289.6" cy="288.2" r="5.7"/><circle cx="289.6" cy="291.2" r="5.7"/><circle cx="289.6" cy="293.1" r="5.7"/><circle cx="289.6" cy="295.2" r="5.7"/><circle cx="289.6" cy="295.3" r="5.7"/><circle cx="289.6" cy="296.9" r="5.7"/><circle cx="289.6" cy="296.9" r="5.7"/><circle cx="289.6" cy="302.6" r="5.7"/><circle cx="289.6" cy="303.0" r="5.7"/><circle cx="289.6" cy="305.9" r="5.7"/><circle cx="289.6" cy="307.0" r="5.7"/><circle cx="289.6" cy="308.5" r="5.7"/><circle cx="289.6" cy="309.5" r="5.7"/><circle cx="289.6" cy="311.4" r="5.7"/><circle cx="289.6" cy="316.7" r="5.7"/><circle cx="289.6" cy="318.0" r="5.7"/><circle cx="289.6" cy="318.0" r="5.7"/><circle cx="289.6" cy="320.4" r="5.7"/><circle cx="289.6" cy="321.2" r="5.7"/><circle cx="289.6" cy="321.9" r="5.7"/><circle cx="289.6" cy="326.8" r="5.7"/><circle cx="289.6" cy="327.1" r="5.7"/><circle cx="289.6" cy="327.6" r="5.7"/><circle cx="289.6" cy="328.3" r="5.7"/><circle cx="289.6" cy="331.5" r="5.7"/><circle cx="289.6" cy="332.7" r="5.7"/><circle cx="289.6" cy="333.9" r="5.7"/><circle cx="289.6" cy="336.5" r="5.7"/><circle cx="289.6" cy="336.8" r="5.7"/><circle cx="289.6" cy="337.0" r="5.7"/><circle cx="289.6" cy="337.9" r="5.7"/><circle cx="289.6" cy="340.1" r="5.7"/><circle cx="289.6" cy="341.0" r="5.7"/><circle cx="289.6" cy="341.0" r="5.7"/><circle cx="289.6" cy="341.9" r="5.7"/><circle cx="289.6" cy="343.5" r="5.7"/><circle cx="289.6" cy="344.5" r="5.7"/><circle cx="289.6" cy="344.9" r="5.7"/><circle cx="289.6" cy="345.9" r="5.7"/><circle cx="289.6" cy="347.9" r="5.7"/><circle cx="289.6" cy="348.1" r="5.7"/><circle cx="289.6" cy="348.7" r="5.7"/><circle cx="289.6" cy="349.0" r="5.7"/><circle cx="289.6" cy="353.2" r="5.7"/><circle cx="289.6" cy="357.7" r="5.7"/><circle cx="289.6" cy="359.9" r="5.7"/><circle cx="289.6" cy="362.6" r="5.7"/><circle cx="289.6" cy="366.1" r="5.7"/><circle cx="289.6" cy="366.4" r="5.7"/><circle cx="289.6" cy="370.9" r="5.7"/><circle cx="289.6" cy="371.4" r="5.7"/><circle cx="289.6" cy="377.2" r="5.7"/><circle cx="289.6" cy="381.4" r="5.7"/><circle cx="289.6" cy="383.1" r="5.7"/><circle cx="289.6" cy="386.9" r="5.7"/><circle cx="289.6" cy="393.1" r="5.7"/><circle cx="289.6" cy="395.9" r="5.7"/><circle cx="289.6" cy="396.7" r="5.7"/><circle cx="289.6" cy="398.1" r="5.7"/><circle cx="289.6" cy="401.6" r="5.7"/><circle cx="289.6" cy="408.2" r="5.7"/><circle cx="289.6" cy="408.3" r="5.7"/><circle cx="289.6" cy="412.3" r="5.7"/><circle cx="289.6" cy="414.1" r="5.7"/><circle cx="289.6" cy="416.0" r="5.7"/><circle cx="289.6" cy="417.7" r="5.7"/><circle cx="289.6" cy="422.0" r="5.7"/><circle cx="294.3" cy="251.0" r="5.7"/><circle cx="294.3" cy="255.0" r="5.7"/><circle cx="294.3" cy="256.7" r="5.7"/><circle cx="294.3" cy="258.3" r="5.7"/><circle cx="294.3" cy="260.0" r="5.7"/><circle cx="294.3" cy="260.1" r="5.7"/><circle cx="294.3" cy="264.4" r="5.7"/><circle cx="294.3" cy="266.1" r="5.7"/><circle cx="294.3" cy="271.1" r="5.7"/><circle cx="294.3" cy="276.8" r="5.7"/><circle cx="294.3" cy="279.9" r="5.7"/><circle cx="294.3" cy="281.6" r="5.7"/><circle cx="294.3" cy="283.8" r="5.7"/><circle cx="294.3" cy="285.0" r="5.7"/><circle cx="294.3" cy="287.9" r="5.7"/><circle cx="294.3" cy="289.7" r="5.7"/><circle cx="294.3" cy="291.0" r="5.7"/><circle cx="294.3" cy="291.4" r="5.7"/><circle cx="294.3" cy="294.7" r="5.7"/><circle cx="294.3" cy="296.9" r="5.7"/><circle cx="294.3" cy="300.5" r="5.7"/><circle cx="294.3" cy="304.4" r="5.7"/><circle cx="294.3" cy="305.4" r="5.7"/><circle cx="294.3" cy="307.4" r="5.7"/><circle cx="294.3" cy="309.6" r="5.7"/><circle cx="294.3" cy="309.8" r="5.7"/><circle cx="294.3" cy="311.8" r="5.7"/><circle cx="294.3" cy="313.1" r="5.7"/><circle cx="294.3" cy="313.9" r="5.7"/><circle cx="294.3" cy="315.4" r="5.7"/><circle cx="294.3" cy="316.6" r="5.7"/><circle cx="294.3" cy="318.2" r="5.7"/><circle cx="294.3" cy="320.3" r="5.7"/><circle cx="294.3" cy="320.3" r="5.7"/><circle cx="294.3" cy="321.8" r="5.7"/><circle cx="294.3" cy="325.7" r="5.7"/><circle cx="294.3" cy="327.5" r="5.7"/><circle cx="294.3" cy="330.0" r="5.7"/><circle cx="294.3" cy="330.1" r="5.7"/><circle cx="294.3" cy="334.1" r="5.7"/><circle cx="294.3" cy="334.9" r="5.7"/><circle cx="294.3" cy="338.6" r="5.7"/><circle cx="294.3" cy="340.4" r="5.7"/><circle cx="294.3" cy="340.7" r="5.7"/><circle cx="294.3" cy="342.4" r="5.7"/><circle cx="294.3" cy="345.5" r="5.7"/><circle cx="294.3" cy="345.6" r="5.7"/><circle cx="294.3" cy="347.3" r="5.7"/><circle cx="294.3" cy="348.9" r="5.7"/><circle cx="294.3" cy="349.2" r="5.7"/><circle cx="294.3" cy="349.9" r="5.7"/><circle cx="294.3" cy="356.1" r="5.7"/><circle cx="294.3" cy="357.3" r="5.7"/><circle cx="294.3" cy="358.4" r="5.7"/><circle cx="294.3" cy="358.5" r="5.7"/><circle cx="294.3" cy="360.1" r="5.7"/><circle cx="294.3" cy="360.1" r="5.7"/><circle cx="294.3" cy="361.7" r="5.7"/><circle cx="294.3" cy="362.3" r="5.7"/><circle cx="294.3" cy="364.4" r="5.7"/><circle cx="294.3" cy="364.7" r="5.7"/><circle cx="294.3" cy="364.9" r="5.7"/><circle cx="294.3" cy="370.3" r="5.7"/><circle cx="294.3" cy="371.5" r="5.7"/><circle cx="294.3" cy="375.5" r="5.7"/><circle cx="294.3" cy="379.8" r="5.7"/><circle cx="294.3" cy="382.8" r="5.7"/><circle cx="294.3" cy="384.0" r="5.7"/><circle cx="294.3" cy="385.0" r="5.7"/><circle cx="294.3" cy="385.9" r="5.7"/><circle cx="294.3" cy="391.2" r="5.7"/><circle cx="294.3" cy="395.8" r="5.7"/><circle cx="294.3" cy="397.7" r="5.7"/><circle cx="294.3" cy="401.2" r="5.7"/><circle cx="294.3" cy="401.8" r="5.7"/><circle cx="294.3" cy="404.5" r="5.7"/><circle cx="294.3" cy="410.4" r="5.7"/><circle cx="294.3" cy="412.1" r="5.7"/><circle cx="294.3" cy="415.4" r="5.7"/><circle cx="294.3" cy="416.0" r="5.7"/><circle cx="294.3" cy="416.2" r="5.7"/><circle cx="294.3" cy="422.0" r="5.7"/><circle cx="299.1" cy="250.0" r="5.7"/><circle cx="299.1" cy="254.0" r="5.7"/><circle cx="299.1" cy="255.1" r="5.7"/><circle cx="299.1" cy="258.1" r="5.7"/><circle cx="299.1" cy="260.1" r="5.7"/><circle cx="299.1" cy="263.6" r="5.7"/><circle cx="299.1" cy="269.2" r="5.7"/><circle cx="299.1" cy="274.2" r="5.7"/><circle cx="299.1" cy="274.9" r="5.7"/><circle cx="299.1" cy="278.9" r="5.7"/><circle cx="299.1" cy="279.5" r="5.7"/><circle cx="299.1" cy="280.4" r="5.7"/><circle cx="299.1" cy="283.8" r="5.7"/><circle cx="299.1" cy="284.7" r="5.7"/><circle cx="299.1" cy="287.3" r="5.7"/><circle cx="299.1" cy="288.6" r="5.7"/><circle cx="299.1" cy="293.7" r="5.7"/><circle cx="299.1" cy="294.7" r="5.7"/><circle cx="299.1" cy="298.8" r="5.7"/><circle cx="299.1" cy="300.5" r="5.7"/><circle cx="299.1" cy="303.4" r="5.7"/><circle cx="299.1" cy="303.7" r="5.7"/><circle cx="299.1" cy="303.8" r="5.7"/><circle cx="299.1" cy="304.1" r="5.7"/><circle cx="299.1" cy="307.4" r="5.7"/><circle cx="299.1" cy="309.8" r="5.7"/><circle cx="299.1" cy="313.1" r="5.7"/><circle cx="299.1" cy="315.0" r="5.7"/><circle cx="299.1" cy="315.1" r="5.7"/><circle cx="299.1" cy="317.0" r="5.7"/><circle cx="299.1" cy="318.8" r="5.7"/><circle cx="299.1" cy="319.8" r="5.7"/><circle cx="299.1" cy="320.0" r="5.7"/><circle cx="299.1" cy="324.3" r="5.7"/><circle cx="299.1" cy="329.0" r="5.7"/><circle cx="299.1" cy="329.0" r="5.7"/><circle cx="299.1" cy="330.1" r="5.7"/><circle cx="299.1" cy="330.1" r="5.7"/><circle cx="299.1" cy="330.9" r="5.7"/><circle cx="299.1" cy="332.5" r="5.7"/><circle cx="299.1" cy="334.7" r="5.7"/><circle cx="299.1" cy="337.4" r="5.7"/><circle cx="299.1" cy="339.5" r="5.7"/><circle cx="299.1" cy="339.7" r="5.7"/><circle cx="299.1" cy="341.9" r="5.7"/><circle cx="299.1" cy="344.4" r="5.7"/><circle cx="299.1" cy="344.5" r="5.7"/><circle cx="299.1" cy="345.0" r="5.7"/><circle cx="299.1" cy="345.1" r="5.7"/><circle cx="299.1" cy="349.9" r="5.7"/><circle cx="299.1" cy="352.6" r="5.7"/><circle cx="299.1" cy="353.3" r="5.7"/><circle cx="299.1" cy="353.9" r="5.7"/><circle cx="299.1" cy="354.4" r="5.7"/><circle cx="299.1" cy="357.8" r="5.7"/><circle cx="299.1" cy="358.0" r="5.7"/><circle cx="299.1" cy="358.9" r="5.7"/><circle cx="299.1" cy="364.6" r="5.7"/><circle cx="299.1" cy="365.3" r="5.7"/><circle cx="299.1" cy="368.5" r="5.7"/><circle cx="299.1" cy="369.2" r="5.7"/><circle cx="299.1" cy="369.9" r="5.7"/><circle cx="299.1" cy="373.4" r="5.7"/><circle cx="299.1" cy="375.3" r="5.7"/><circle cx="299.1" cy="378.0" r="5.7"/><circle cx="299.1" cy="380.0" r="5.7"/><circle cx="299.1" cy="384.4" r="5.7"/><circle cx="299.1" cy="387.0" r="5.7"/><circle cx="299.1" cy="390.2" r="5.7"/><circle cx="299.1" cy="395.3" r="5.7"/><circle cx="299.1" cy="398.3" r="5.7"/><circle cx="299.1" cy="399.4" r="5.7"/><circle cx="299.1" cy="404.6" r="5.7"/><circle cx="299.1" cy="404.8" r="5.7"/><circle cx="299.1" cy="408.2" r="5.7"/><circle cx="299.1" cy="409.0" r="5.7"/><circle cx="299.1" cy="414.0" r="5.7"/><circle cx="299.1" cy="414.4" r="5.7"/><circle cx="299.1" cy="414.5" r="5.7"/><circle cx="299.1" cy="420.0" r="5.7"/><circle cx="303.9" cy="248.0" r="5.7"/><circle cx="303.9" cy="252.0" r="5.7"/><circle cx="303.9" cy="253.7" r="5.7"/><circle cx="303.9" cy="253.8" r="5.7"/><circle cx="303.9" cy="255.1" r="5.7"/><circle cx="303.9" cy="260.0" r="5.7"/><circle cx="303.9" cy="264.9" r="5.7"/><circle cx="303.9" cy="269.1" r="5.7"/><circle cx="303.9" cy="275.0" r="5.7"/><circle cx="303.9" cy="275.0" r="5.7"/><circle cx="303.9" cy="275.5" r="5.7"/><circle cx="303.9" cy="280.1" r="5.7"/><circle cx="303.9" cy="281.9" r="5.7"/><circle cx="303.9" cy="285.0" r="5.7"/><circle cx="303.9" cy="290.5" r="5.7"/><circle cx="303.9" cy="293.4" r="5.7"/><circle cx="303.9" cy="295.5" r="5.7"/><circle cx="303.9" cy="295.8" r="5.7"/><circle cx="303.9" cy="296.3" r="5.7"/><circle cx="303.9" cy="299.8" r="5.7"/><circle cx="303.9" cy="300.4" r="5.7"/><circle cx="303.9" cy="303.3" r="5.7"/><circle cx="303.9" cy="304.1" r="5.7"/><circle cx="303.9" cy="309.8" r="5.7"/><circle cx="303.9" cy="312.4" r="5.7"/><circle cx="303.9" cy="312.7" r="5.7"/><circle cx="303.9" cy="313.7" r="5.7"/><circle cx="303.9" cy="314.3" r="5.7"/><circle cx="303.9" cy="315.4" r="5.7"/><circle cx="303.9" cy="320.3" r="5.7"/><circle cx="303.9" cy="322.8" r="5.7"/><circle cx="303.9" cy="322.9" r="5.7"/><circle cx="303.9" cy="323.2" r="5.7"/><circle cx="303.9" cy="323.5" r="5.7"/><circle cx="303.9" cy="324.4" r="5.7"/><circle cx="303.9" cy="325.4" r="5.7"/><circle cx="303.9" cy="328.0" r="5.7"/><circle cx="303.9" cy="329.3" r="5.7"/><circle cx="303.9" cy="329.5" r="5.7"/><circle cx="303.9" cy="330.1" r="5.7"/><circle cx="303.9" cy="333.7" r="5.7"/><circle cx="303.9" cy="336.3" r="5.7"/><circle cx="303.9" cy="336.4" r="5.7"/><circle cx="303.9" cy="337.2" r="5.7"/><circle cx="303.9" cy="339.1" r="5.7"/><circle cx="303.9" cy="339.4" r="5.7"/><circle cx="303.9" cy="340.6" r="5.7"/><circle cx="303.9" cy="344.0" r="5.7"/><circle cx="303.9" cy="345.6" r="5.7"/><circle cx="303.9" cy="346.5" r="5.7"/><circle cx="303.9" cy="347.9" r="5.7"/><circle cx="303.9" cy="349.7" r="5.7"/><circle cx="303.9" cy="351.4" r="5.7"/><circle cx="303.9" cy="354.0" r="5.7"/><circle cx="303.9" cy="355.1" r="5.7"/><circle cx="303.9" cy="358.5" r="5.7"/><circle cx="303.9" cy="359.0" r="5.7"/><circle cx="303.9" cy="359.1" r="5.7"/><circle cx="303.9" cy="361.5" r="5.7"/><circle cx="303.9" cy="362.3" r="5.7"/><circle cx="303.9" cy="364.6" r="5.7"/><circle cx="303.9" cy="364.7" r="5.7"/><circle cx="303.9" cy="368.0" r="5.7"/><circle cx="303.9" cy="369.0" r="5.7"/><circle cx="303.9" cy="373.8" r="5.7"/><circle cx="303.9" cy="380.3" r="5.7"/><circle cx="303.9" cy="383.9" r="5.7"/><circle cx="303.9" cy="388.3" r="5.7"/><circle cx="303.9" cy="390.3" r="5.7"/><circle cx="303.9" cy="393.9" r="5.7"/><circle cx="303.9" cy="399.9" r="5.7"/><circle cx="303.9" cy="403.6" r="5.7"/><circle cx="303.9" cy="409.9" r="5.7"/><circle cx="303.9" cy="410.2" r="5.7"/><circle cx="303.9" cy="412.0" r="5.7"/><circle cx="303.9" cy="414.4" r="5.7"/><circle cx="303.9" cy="414.4" r="5.7"/><circle cx="303.9" cy="418.0" r="5.7"/><circle cx="308.6" cy="252.0" r="5.7"/><circle cx="308.6" cy="256.0" r="5.7"/><circle cx="308.6" cy="261.1" r="5.7"/><circle cx="308.6" cy="261.1" r="5.7"/><circle cx="308.6" cy="263.2" r="5.7"/><circle cx="308.6" cy="266.1" r="5.7"/><circle cx="308.6" cy="270.4" r="5.7"/><circle cx="308.6" cy="273.1" r="5.7"/><circle cx="308.6" cy="276.5" r="5.7"/><circle cx="308.6" cy="279.3" r="5.7"/><circle cx="308.6" cy="279.4" r="5.7"/><circle cx="308.6" cy="280.0" r="5.7"/><circle cx="308.6" cy="286.2" r="5.7"/><circle cx="308.6" cy="289.5" r="5.7"/><circle cx="308.6" cy="290.7" r="5.7"/><circle cx="308.6" cy="290.9" r="5.7"/><circle cx="308.6" cy="294.7" r="5.7"/><circle cx="308.6" cy="301.1" r="5.7"/><circle cx="308.6" cy="305.2" r="5.7"/><circle cx="308.6" cy="306.3" r="5.7"/><circle cx="308.6" cy="306.7" r="5.7"/><circle cx="308.6" cy="310.4" r="5.7"/><circle cx="308.6" cy="311.2" r="5.7"/><circle cx="308.6" cy="315.3" r="5.7"/><circle cx="308.6" cy="315.7" r="5.7"/><circle cx="308.6" cy="316.2" r="5.7"/><circle cx="308.6" cy="319.6" r="5.7"/><circle cx="308.6" cy="320.7" r="5.7"/><circle cx="308.6" cy="321.7" r="5.7"/><circle cx="308.6" cy="323.1" r="5.7"/><circle cx="308.6" cy="324.0" r="5.7"/><circle cx="308.6" cy="324.8" r="5.7"/><circle cx="308.6" cy="326.6" r="5.7"/><circle cx="308.6" cy="327.7" r="5.7"/><circle cx="308.6" cy="330.7" r="5.7"/><circle cx="308.6" cy="332.0" r="5.7"/><circle cx="308.6" cy="333.6" r="5.7"/><circle cx="308.6" cy="334.3" r="5.7"/><circle cx="308.6" cy="334.5" r="5.7"/><circle cx="308.6" cy="340.5" r="5.7"/><circle cx="308.6" cy="342.2" r="5.7"/><circle cx="308.6" cy="345.7" r="5.7"/><circle cx="308.6" cy="346.0" r="5.7"/><circle cx="308.6" cy="349.9" r="5.7"/><circle cx="308.6" cy="350.3" r="5.7"/><circle cx="308.6" cy="351.0" r="5.7"/><circle cx="308.6" cy="351.2" r="5.7"/><circle cx="308.6" cy="352.2" r="5.7"/><circle cx="308.6" cy="354.0" r="5.7"/><circle cx="308.6" cy="354.7" r="5.7"/><circle cx="308.6" cy="355.3" r="5.7"/><circle cx="308.6" cy="358.6" r="5.7"/><circle cx="308.6" cy="361.1" r="5.7"/><circle cx="308.6" cy="365.0" r="5.7"/><circle cx="308.6" cy="366.2" r="5.7"/><circle cx="308.6" cy="367.5" r="5.7"/><circle cx="308.6" cy="371.0" r="5.7"/><circle cx="308.6" cy="372.6" r="5.7"/><circle cx="308.6" cy="375.5" r="5.7"/><circle cx="308.6" cy="377.8" r="5.7"/><circle cx="308.6" cy="381.3" r="5.7"/><circle cx="308.6" cy="386.1" r="5.7"/><circle cx="308.6" cy="389.5" r="5.7"/><circle cx="308.6" cy="395.0" r="5.7"/><circle cx="308.6" cy="396.2" r="5.7"/><circle cx="308.6" cy="399.4" r="5.7"/><circle cx="308.6" cy="404.2" r="5.7"/><circle cx="308.6" cy="405.7" r="5.7"/><circle cx="308.6" cy="410.0" r="5.7"/><circle cx="308.6" cy="414.0" r="5.7"/><circle cx="308.6" cy="418.1" r="5.7"/><circle cx="308.6" cy="420.0" r="5.7"/><circle cx="313.4" cy="262.0" r="5.7"/><circle cx="313.4" cy="274.1" r="5.7"/><circle cx="313.4" cy="274.2" r="5.7"/><circle cx="313.4" cy="276.0" r="5.7"/><circle cx="313.4" cy="277.6" r="5.7"/><circle cx="313.4" cy="283.6" r="5.7"/><circle cx="313.4" cy="285.2" r="5.7"/><circle cx="313.4" cy="288.5" r="5.7"/><circle cx="313.4" cy="292.5" r="5.7"/><circle cx="313.4" cy="297.9" r="5.7"/><circle cx="313.4" cy="301.2" r="5.7"/><circle cx="313.4" cy="302.2" r="5.7"/><circle cx="313.4" cy="302.5" r="5.7"/><circle cx="313.4" cy="306.1" r="5.7"/><circle cx="313.4" cy="309.1" r="5.7"/><circle cx="313.4" cy="312.5" r="5.7"/><circle cx="313.4" cy="317.9" r="5.7"/><circle cx="313.4" cy="321.1" r="5.7"/><circle cx="313.4" cy="321.8" r="5.7"/><circle cx="313.4" cy="322.0" r="5.7"/><circle cx="313.4" cy="322.1" r="5.7"/><circle cx="313.4" cy="322.7" r="5.7"/><circle cx="313.4" cy="324.9" r="5.7"/><circle cx="313.4" cy="325.6" r="5.7"/><circle cx="313.4" cy="328.4" r="5.7"/><circle cx="313.4" cy="328.9" r="5.7"/><circle cx="313.4" cy="329.4" r="5.7"/><circle cx="313.4" cy="330.4" r="5.7"/><circle cx="313.4" cy="331.1" r="5.7"/><circle cx="313.4" cy="333.9" r="5.7"/><circle cx="313.4" cy="338.3" r="5.7"/><circle cx="313.4" cy="343.2" r="5.7"/><circle cx="313.4" cy="347.1" r="5.7"/><circle cx="313.4" cy="349.8" r="5.7"/><circle cx="313.4" cy="353.0" r="5.7"/><circle cx="313.4" cy="353.1" r="5.7"/><circle cx="313.4" cy="353.2" r="5.7"/><circle cx="313.4" cy="354.1" r="5.7"/><circle cx="313.4" cy="355.0" r="5.7"/><circle cx="313.4" cy="357.1" r="5.7"/><circle cx="313.4" cy="358.3" r="5.7"/><circle cx="313.4" cy="362.6" r="5.7"/><circle cx="313.4" cy="362.8" r="5.7"/><circle cx="313.4" cy="364.5" r="5.7"/><circle cx="313.4" cy="364.9" r="5.7"/><circle cx="313.4" cy="367.5" r="5.7"/><circle cx="313.4" cy="367.8" r="5.7"/><circle cx="313.4" cy="368.9" r="5.7"/><circle cx="313.4" cy="370.7" r="5.7"/><circle cx="313.4" cy="373.6" r="5.7"/><circle cx="313.4" cy="374.1" r="5.7"/><circle cx="313.4" cy="375.5" r="5.7"/><circle cx="313.4" cy="378.5" r="5.7"/><circle cx="313.4" cy="381.4" r="5.7"/><circle cx="313.4" cy="382.7" r="5.7"/><circle cx="313.4" cy="388.2" r="5.7"/><circle cx="313.4" cy="389.1" r="5.7"/><circle cx="313.4" cy="390.7" r="5.7"/><circle cx="313.4" cy="394.2" r="5.7"/><circle cx="313.4" cy="396.8" r="5.7"/><circle cx="313.4" cy="397.0" r="5.7"/><circle cx="313.4" cy="403.4" r="5.7"/><circle cx="313.4" cy="404.0" r="5.7"/><circle cx="313.4" cy="408.0" r="5.7"/><circle cx="313.4" cy="414.0" r="5.7"/><circle cx="313.4" cy="416.0" r="5.7"/><circle cx="318.1" cy="266.0" r="5.7"/><circle cx="318.1" cy="271.1" r="5.7"/><circle cx="318.1" cy="280.0" r="5.7"/><circle cx="318.1" cy="282.5" r="5.7"/><circle cx="318.1" cy="282.9" r="5.7"/><circle cx="318.1" cy="287.9" r="5.7"/><circle cx="318.1" cy="288.0" r="5.7"/><circle cx="318.1" cy="293.3" r="5.7"/><circle cx="318.1" cy="298.0" r="5.7"/><circle cx="318.1" cy="304.0" r="5.7"/><circle cx="318.1" cy="304.7" r="5.7"/><circle cx="318.1" cy="307.2" r="5.7"/><circle cx="318.1" cy="311.1" r="5.7"/><circle cx="318.1" cy="311.2" r="5.7"/><circle cx="318.1" cy="311.5" r="5.7"/><circle cx="318.1" cy="314.0" r="5.7"/><circle cx="318.1" cy="317.3" r="5.7"/><circle cx="318.1" cy="322.2" r="5.7"/><circle cx="318.1" cy="324.3" r="5.7"/><circle cx="318.1" cy="324.4" r="5.7"/><circle cx="318.1" cy="326.6" r="5.7"/><circle cx="318.1" cy="328.2" r="5.7"/><circle cx="318.1" cy="330.9" r="5.7"/><circle cx="318.1" cy="332.9" r="5.7"/><circle cx="318.1" cy="333.4" r="5.7"/><circle cx="318.1" cy="338.4" r="5.7"/><circle cx="318.1" cy="339.1" r="5.7"/><circle cx="318.1" cy="343.1" r="5.7"/><circle cx="318.1" cy="344.0" r="5.7"/><circle cx="318.1" cy="347.1" r="5.7"/><circle cx="318.1" cy="347.5" r="5.7"/><circle cx="318.1" cy="349.2" r="5.7"/><circle cx="318.1" cy="352.9" r="5.7"/><circle cx="318.1" cy="355.0" r="5.7"/><circle cx="318.1" cy="356.7" r="5.7"/><circle cx="318.1" cy="357.0" r="5.7"/><circle cx="318.1" cy="357.3" r="5.7"/><circle cx="318.1" cy="358.4" r="5.7"/><circle cx="318.1" cy="358.8" r="5.7"/><circle cx="318.1" cy="359.7" r="5.7"/><circle cx="318.1" cy="360.4" r="5.7"/><circle cx="318.1" cy="362.3" r="5.7"/><circle cx="318.1" cy="367.1" r="5.7"/><circle cx="318.1" cy="368.9" r="5.7"/><circle cx="318.1" cy="370.1" r="5.7"/><circle cx="318.1" cy="373.7" r="5.7"/><circle cx="318.1" cy="378.6" r="5.7"/><circle cx="318.1" cy="382.3" r="5.7"/><circle cx="318.1" cy="383.8" r="5.7"/><circle cx="318.1" cy="388.2" r="5.7"/><circle cx="318.1" cy="391.5" r="5.7"/><circle cx="318.1" cy="392.0" r="5.7"/><circle cx="318.1" cy="395.2" r="5.7"/><circle cx="318.1" cy="397.2" r="5.7"/><circle cx="318.1" cy="398.0" r="5.7"/><circle cx="318.1" cy="402.7" r="5.7"/><circle cx="318.1" cy="403.6" r="5.7"/><circle cx="318.1" cy="410.0" r="5.7"/><circle cx="322.9" cy="270.0" r="5.7"/><circle cx="322.9" cy="283.5" r="5.7"/><circle cx="322.9" cy="284.0" r="5.7"/><circle cx="322.9" cy="289.0" r="5.7"/><circle cx="322.9" cy="291.1" r="5.7"/><circle cx="322.9" cy="296.6" r="5.7"/><circle cx="322.9" cy="298.7" r="5.7"/><circle cx="322.9" cy="301.1" r="5.7"/><circle cx="322.9" cy="305.9" r="5.7"/><circle cx="322.9" cy="311.6" r="5.7"/><circle cx="322.9" cy="311.7" r="5.7"/><circle cx="322.9" cy="312.3" r="5.7"/><circle cx="322.9" cy="316.6" r="5.7"/><circle cx="322.9" cy="316.8" r="5.7"/><circle cx="322.9" cy="317.6" r="5.7"/><circle cx="322.9" cy="319.5" r="5.7"/><circle cx="322.9" cy="321.0" r="5.7"/><circle cx="322.9" cy="321.5" r="5.7"/><circle cx="322.9" cy="325.5" r="5.7"/><circle cx="322.9" cy="326.4" r="5.7"/><circle cx="322.9" cy="326.6" r="5.7"/><circle cx="322.9" cy="331.4" r="5.7"/><circle cx="322.9" cy="332.9" r="5.7"/><circle cx="322.9" cy="337.0" r="5.7"/><circle cx="322.9" cy="338.8" r="5.7"/><circle cx="322.9" cy="339.4" r="5.7"/><circle cx="322.9" cy="339.9" r="5.7"/><circle cx="322.9" cy="340.3" r="5.7"/><circle cx="322.9" cy="342.8" r="5.7"/><circle cx="322.9" cy="343.3" r="5.7"/><circle cx="322.9" cy="345.3" r="5.7"/><circle cx="322.9" cy="345.4" r="5.7"/><circle cx="322.9" cy="348.8" r="5.7"/><circle cx="322.9" cy="350.8" r="5.7"/><circle cx="322.9" cy="354.0" r="5.7"/><circle cx="322.9" cy="355.0" r="5.7"/><circle cx="322.9" cy="355.9" r="5.7"/><circle cx="322.9" cy="356.4" r="5.7"/><circle cx="322.9" cy="362.1" r="5.7"/><circle cx="322.9" cy="366.2" r="5.7"/><circle cx="322.9" cy="372.3" r="5.7"/><circle cx="322.9" cy="376.2" r="5.7"/><circle cx="322.9" cy="380.9" r="5.7"/><circle cx="322.9" cy="383.4" r="5.7"/><circle cx="322.9" cy="386.8" r="5.7"/><circle cx="322.9" cy="390.4" r="5.7"/><circle cx="322.9" cy="392.0" r="5.7"/><circle cx="322.9" cy="397.6" r="5.7"/><circle cx="322.9" cy="399.7" r="5.7"/><circle cx="322.9" cy="404.0" r="5.7"/><circle cx="327.7" cy="270.0" r="5.7"/><circle cx="327.7" cy="281.6" r="5.7"/><circle cx="327.7" cy="284.0" r="5.7"/><circle cx="327.7" cy="293.4" r="5.7"/><circle cx="327.7" cy="298.5" r="5.7"/><circle cx="327.7" cy="301.7" r="5.7"/><circle cx="327.7" cy="303.9" r="5.7"/><circle cx="327.7" cy="310.5" r="5.7"/><circle cx="327.7" cy="314.5" r="5.7"/><circle cx="327.7" cy="314.6" r="5.7"/><circle cx="327.7" cy="315.7" r="5.7"/><circle cx="327.7" cy="320.4" r="5.7"/><circle cx="327.7" cy="323.7" r="5.7"/><circle cx="327.7" cy="324.9" r="5.7"/><circle cx="327.7" cy="329.2" r="5.7"/><circle cx="327.7" cy="330.8" r="5.7"/><circle cx="327.7" cy="332.5" r="5.7"/><circle cx="327.7" cy="334.5" r="5.7"/><circle cx="327.7" cy="334.5" r="5.7"/><circle cx="327.7" cy="339.1" r="5.7"/><circle cx="327.7" cy="340.2" r="5.7"/><circle cx="327.7" cy="340.6" r="5.7"/><circle cx="327.7" cy="341.4" r="5.7"/><circle cx="327.7" cy="343.5" r="5.7"/><circle cx="327.7" cy="345.1" r="5.7"/><circle cx="327.7" cy="348.3" r="5.7"/><circle cx="327.7" cy="350.3" r="5.7"/><circle cx="327.7" cy="353.3" r="5.7"/><circle cx="327.7" cy="354.3" r="5.7"/><circle cx="327.7" cy="357.9" r="5.7"/><circle cx="327.7" cy="358.2" r="5.7"/><circle cx="327.7" cy="362.3" r="5.7"/><circle cx="327.7" cy="364.2" r="5.7"/><circle cx="327.7" cy="369.1" r="5.7"/><circle cx="327.7" cy="370.7" r="5.7"/><circle cx="327.7" cy="374.8" r="5.7"/><circle cx="327.7" cy="379.2" r="5.7"/><circle cx="327.7" cy="380.4" r="5.7"/><circle cx="327.7" cy="384.4" r="5.7"/><circle cx="327.7" cy="388.0" r="5.7"/><circle cx="327.7" cy="389.8" r="5.7"/><circle cx="327.7" cy="391.9" r="5.7"/><circle cx="327.7" cy="400.0" r="5.7"/><circle cx="332.4" cy="283.0" r="5.7"/><circle cx="332.4" cy="288.4" r="5.7"/><circle cx="332.4" cy="297.0" r="5.7"/><circle cx="332.4" cy="299.7" r="5.7"/><circle cx="332.4" cy="305.7" r="5.7"/><circle cx="332.4" cy="310.5" r="5.7"/><circle cx="332.4" cy="314.4" r="5.7"/><circle cx="332.4" cy="319.5" r="5.7"/><circle cx="332.4" cy="320.3" r="5.7"/><circle cx="332.4" cy="323.3" r="5.7"/><circle cx="332.4" cy="323.9" r="5.7"/><circle cx="332.4" cy="324.2" r="5.7"/><circle cx="332.4" cy="327.9" r="5.7"/><circle cx="332.4" cy="330.2" r="5.7"/><circle cx="332.4" cy="333.2" r="5.7"/><circle cx="332.4" cy="333.6" r="5.7"/><circle cx="332.4" cy="335.5" r="5.7"/><circle cx="332.4" cy="337.5" r="5.7"/><circle cx="332.4" cy="339.1" r="5.7"/><circle cx="332.4" cy="339.4" r="5.7"/><circle cx="332.4" cy="339.7" r="5.7"/><circle cx="332.4" cy="341.6" r="5.7"/><circle cx="332.4" cy="345.4" r="5.7"/><circle cx="332.4" cy="347.3" r="5.7"/><circle cx="332.4" cy="348.4" r="5.7"/><circle cx="332.4" cy="349.8" r="5.7"/><circle cx="332.4" cy="355.0" r="5.7"/><circle cx="332.4" cy="355.5" r="5.7"/><circle cx="332.4" cy="359.7" r="5.7"/><circle cx="332.4" cy="360.6" r="5.7"/><circle cx="332.4" cy="364.7" r="5.7"/><circle cx="332.4" cy="369.1" r="5.7"/><circle cx="332.4" cy="373.7" r="5.7"/><circle cx="332.4" cy="380.0" r="5.7"/><circle cx="332.4" cy="380.6" r="5.7"/><circle cx="332.4" cy="389.3" r="5.7"/><circle cx="332.4" cy="392.0" r="5.7"/><circle cx="337.2" cy="285.0" r="5.7"/><circle cx="337.2" cy="295.7" r="5.7"/><circle cx="337.2" cy="299.0" r="5.7"/><circle cx="337.2" cy="301.9" r="5.7"/><circle cx="337.2" cy="303.8" r="5.7"/><circle cx="337.2" cy="309.0" r="5.7"/><circle cx="337.2" cy="315.2" r="5.7"/><circle cx="337.2" cy="325.9" r="5.7"/><circle cx="337.2" cy="326.8" r="5.7"/><circle cx="337.2" cy="342.1" r="5.7"/><circle cx="337.2" cy="352.2" r="5.7"/><circle cx="337.2" cy="358.2" r="5.7"/><circle cx="337.2" cy="367.4" r="5.7"/><circle cx="337.2" cy="373.0" r="5.7"/><circle cx="337.2" cy="382.7" r="5.7"/><circle cx="337.2" cy="385.0" r="5.7"/><circle cx="342.0" cy="288.0" r="5.7"/><circle cx="342.0" cy="291.5" r="5.7"/><circle cx="342.0" cy="302.0" r="5.7"/><circle cx="342.0" cy="317.9" r="5.7"/><circle cx="342.0" cy="319.2" r="5.7"/><circle cx="342.0" cy="319.7" r="5.7"/><circle cx="342.0" cy="325.2" r="5.7"/><circle cx="342.0" cy="326.5" r="5.7"/><circle cx="342.0" cy="329.8" r="5.7"/><circle cx="342.0" cy="333.8" r="5.7"/><circle cx="342.0" cy="338.3" r="5.7"/><circle cx="342.0" cy="339.0" r="5.7"/><circle cx="342.0" cy="346.7" r="5.7"/><circle cx="342.0" cy="352.9" r="5.7"/><circle cx="342.0" cy="355.0" r="5.7"/><circle cx="342.0" cy="360.1" r="5.7"/><circle cx="342.0" cy="361.4" r="5.7"/><circle cx="342.0" cy="364.5" r="5.7"/><circle cx="342.0" cy="370.0" r="5.7"/><circle cx="342.0" cy="370.2" r="5.7"/><circle cx="342.0" cy="382.0" r="5.7"/><circle cx="346.7" cy="292.0" r="5.7"/><circle cx="346.7" cy="299.1" r="5.7"/><circle cx="346.7" cy="306.0" r="5.7"/><circle cx="346.7" cy="309.8" r="5.7"/><circle cx="346.7" cy="310.2" r="5.7"/><circle cx="346.7" cy="312.3" r="5.7"/><circle cx="346.7" cy="313.4" r="5.7"/><circle cx="346.7" cy="315.3" r="5.7"/><circle cx="346.7" cy="318.9" r="5.7"/><circle cx="346.7" cy="321.2" r="5.7"/><circle cx="346.7" cy="325.2" r="5.7"/><circle cx="346.7" cy="328.0" r="5.7"/><circle cx="346.7" cy="338.3" r="5.7"/><circle cx="346.7" cy="340.6" r="5.7"/><circle cx="346.7" cy="366.7" r="5.7"/><circle cx="346.7" cy="368.0" r="5.7"/><circle cx="346.7" cy="374.8" r="5.7"/><circle cx="346.7" cy="380.0" r="5.7"/><circle cx="351.5" cy="300.0" r="5.7"/><circle cx="351.5" cy="307.0" r="5.7"/><circle cx="351.5" cy="314.0" r="5.7"/><circle cx="351.5" cy="315.0" r="5.7"/><circle cx="351.5" cy="327.3" r="5.7"/><circle cx="351.5" cy="331.4" r="5.7"/><circle cx="351.5" cy="335.7" r="5.7"/><circle cx="351.5" cy="336.5" r="5.7"/><circle cx="351.5" cy="343.2" r="5.7"/><circle cx="351.5" cy="358.6" r="5.7"/><circle cx="351.5" cy="362.8" r="5.7"/><circle cx="351.5" cy="363.4" r="5.7"/><circle cx="351.5" cy="366.0" r="5.7"/><circle cx="351.5" cy="368.4" r="5.7"/><circle cx="351.5" cy="378.0" r="5.7"/><circle cx="356.2" cy="305.0" r="5.7"/><circle cx="356.2" cy="311.9" r="5.7"/><circle cx="356.2" cy="319.0" r="5.7"/><circle cx="356.2" cy="332.6" r="5.7"/><circle cx="356.2" cy="339.1" r="5.7"/><circle cx="356.2" cy="344.1" r="5.7"/><circle cx="356.2" cy="354.6" r="5.7"/><circle cx="356.2" cy="357.3" r="5.7"/><circle cx="356.2" cy="358.3" r="5.7"/><circle cx="356.2" cy="360.0" r="5.7"/><circle cx="356.2" cy="367.1" r="5.7"/><circle cx="356.2" cy="372.0" r="5.7"/></g>
<g fill="#dbbc36" fill-opacity="0.6"><circle cx="218.1" cy="284.5" r="5.7"/><circle cx="218.1" cy="338.5" r="5.7"/><circle cx="218.1" cy="342.0" r="5.7"/><circle cx="218.1" cy="345.5" r="5.7"/><circle cx="218.1" cy="349.0" r="5.7"/><circle cx="218.1" cy="379.1" r="5.7"/><circle cx="218.1" cy="420.9" r="5.7"/><circle cx="222.9" cy="284.5" r="5.7"/><circle cx="222.9" cy="340.0" r="5.7"/><circle cx="222.9" cy="344.0" r="5.7"/><circle cx="222.9" cy="347.5" r="5.7"/><circle cx="222.9" cy="398.2" r="5.7"/><circle cx="222.9" cy="408.2" r="5.7"/><circle cx="227.7" cy="295.5" r="5.7"/><circle cx="227.7" cy="341.0" r="5.7"/><circle cx="227.7" cy="346.0" r="5.7"/><circle cx="232.4" cy="273.6" r="5.7"/><circle cx="232.4" cy="281.8" r="5.7"/><circle cx="232.4" cy="412.7" r="5.7"/><circle cx="237.2" cy="242.7" r="5.7"/><circle cx="237.2" cy="353.0" r="5.7"/><circle cx="237.2" cy="357.5" r="5.7"/><circle cx="237.2" cy="408.2" r="5.7"/><circle cx="242.0" cy="262.7" r="5.7"/><circle cx="242.0" cy="274.5" r="5.7"/><circle cx="242.0" cy="355.0" r="5.7"/><circle cx="242.0" cy="416.4" r="5.7"/><circle cx="246.7" cy="246.4" r="5.7"/><circle cx="246.7" cy="273.6" r="5.7"/><circle cx="251.5" cy="231.5" r="5.7"/><circle cx="251.5" cy="263.6" r="5.7"/><circle cx="256.2" cy="422.2" r="5.7"/><circle cx="261.0" cy="246.4" r="5.7"/><circle cx="265.8" cy="431.8" r="5.7"/><circle cx="270.5" cy="436.4" r="5.7"/><circle cx="270.5" cy="442.0" r="5.7"/><circle cx="275.3" cy="239.1" r="5.7"/><circle cx="275.3" cy="444.5" r="5.7"/><circle cx="275.3" cy="458.2" r="5.7"/><circle cx="280.0" cy="219.5" r="5.7"/><circle cx="280.0" cy="433.6" r="5.7"/><circle cx="280.0" cy="446.4" r="5.7"/><circle cx="280.0" cy="457.6" r="5.7"/><circle cx="280.0" cy="496.4" r="5.7"/><circle cx="284.8" cy="189.6" r="5.7"/><circle cx="284.8" cy="246.4" r="5.7"/><circle cx="284.8" cy="434.5" r="5.7"/><circle cx="284.8" cy="446.4" r="5.7"/><circle cx="284.8" cy="481.5" r="5.7"/><circle cx="289.6" cy="245.5" r="5.7"/><circle cx="289.6" cy="435.5" r="5.7"/><circle cx="294.3" cy="198.0" r="5.7"/><circle cx="294.3" cy="225.1" r="5.7"/><circle cx="294.3" cy="228.7" r="5.7"/><circle cx="294.3" cy="241.5" r="5.7"/><circle cx="294.3" cy="435.5" r="5.7"/><circle cx="294.3" cy="447.3" r="5.7"/><circle cx="294.3" cy="470.5" r="5.7"/><circle cx="299.1" cy="226.9" r="5.7"/><circle cx="299.1" cy="234.9" r="5.7"/><circle cx="299.1" cy="429.0" r="5.7"/><circle cx="303.9" cy="441.8" r="5.7"/><circle cx="303.9" cy="469.6" r="5.7"/><circle cx="308.6" cy="217.3" r="5.7"/><circle cx="313.4" cy="172.4" r="5.7"/><circle cx="313.4" cy="225.5" r="5.7"/><circle cx="313.4" cy="230.4" r="5.7"/><circle cx="313.4" cy="238.2" r="5.7"/><circle cx="313.4" cy="475.1" r="5.7"/><circle cx="318.1" cy="237.3" r="5.7"/><circle cx="318.1" cy="250.9" r="5.7"/><circle cx="318.1" cy="424.5" r="5.7"/><circle cx="318.1" cy="463.1" r="5.7"/><circle cx="322.9" cy="415.5" r="5.7"/><circle cx="322.9" cy="442.7" r="5.7"/><circle cx="322.9" cy="452.7" r="5.7"/><circle cx="327.7" cy="416.4" r="5.7"/><circle cx="327.7" cy="431.8" r="5.7"/><circle cx="327.7" cy="443.6" r="5.7"/><circle cx="332.4" cy="253.6" r="5.7"/><circle cx="337.2" cy="264.5" r="5.7"/><circle cx="337.2" cy="390.0" r="5.7"/><circle cx="337.2" cy="440.5" r="5.7"/><circle cx="342.0" cy="226.2" r="5.7"/><circle cx="342.0" cy="403.6" r="5.7"/><circle cx="346.7" cy="266.4" r="5.7"/><circle cx="346.7" cy="399.0" r="5.7"/><circle cx="346.7" cy="409.0" r="5.7"/><circle cx="346.7" cy="438.2" r="5.7"/><circle cx="351.5" cy="271.8" r="5.7"/><circle cx="351.5" cy="382.7" r="5.7"/><circle cx="356.2" cy="296.9" r="5.7"/><circle cx="356.2" cy="411.0" r="5.7"/><circle cx="361.0" cy="268.2" r="5.7"/><circle cx="361.0" cy="297.0" r="5.7"/><circle cx="361.0" cy="318.0" r="5.7"/><circle cx="361.0" cy="331.6" r="5.7"/><circle cx="361.0" cy="340.0" r="5.7"/><circle cx="361.0" cy="348.0" r="5.7"/><circle cx="361.0" cy="352.5" r="5.7"/><circle cx="361.0" cy="356.0" r="5.7"/><circle cx="361.0" cy="360.0" r="5.7"/><circle cx="361.0" cy="364.0" r="5.7"/><circle cx="361.0" cy="396.4" r="5.7"/><circle cx="361.0" cy="408.2" r="5.7"/><circle cx="365.8" cy="170.0" r="5.7"/><circle cx="365.8" cy="294.4" r="5.7"/><circle cx="365.8" cy="320.0" r="5.7"/><circle cx="365.8" cy="331.6" r="5.7"/><circle cx="365.8" cy="346.0" r="5.7"/><circle cx="365.8" cy="352.0" r="5.7"/><circle cx="365.8" cy="360.0" r="5.7"/><circle cx="365.8" cy="382.7" r="5.7"/><circle cx="370.5" cy="299.6" r="5.7"/><circle cx="370.5" cy="316.0" r="5.7"/><circle cx="370.5" cy="336.0" r="5.7"/><circle cx="370.5" cy="351.0" r="5.7"/><circle cx="370.5" cy="357.0" r="5.7"/><circle cx="370.5" cy="364.3" r="5.7"/><circle cx="370.5" cy="382.7" r="5.7"/><circle cx="375.3" cy="257.8" r="5.7"/><circle cx="375.3" cy="333.0" r="5.7"/><circle cx="375.3" cy="351.0" r="5.7"/><circle cx="375.3" cy="360.0" r="5.7"/><circle cx="380.0" cy="360.0" r="5.7"/><circle cx="380.0" cy="368.8" r="5.7"/><circle cx="380.0" cy="394.5" r="5.7"/><circle cx="384.8" cy="323.8" r="5.7"/><circle cx="384.8" cy="345.0" r="5.7"/><circle cx="389.6" cy="278.7" r="5.7"/><circle cx="389.6" cy="345.0" r="5.7"/><circle cx="389.6" cy="370.5" r="5.7"/><circle cx="394.3" cy="352.7" r="5.7"/><circle cx="399.1" cy="358.2" r="5.7"/><circle cx="403.9" cy="295.4" r="5.7"/><circle cx="403.9" cy="314.0" r="5.7"/><circle cx="403.9" cy="325.7" r="5.7"/><circle cx="403.9" cy="334.5" r="5.7"/><circle cx="403.9" cy="341.8" r="5.7"/><circle cx="408.6" cy="322.7" r="5.7"/><circle cx="413.4" cy="364.5" r="5.7"/><circle cx="418.1" cy="375.5" r="5.7"/><circle cx="422.9" cy="383.6" r="5.7"/><circle cx="427.7" cy="331.5" r="5.7"/><circle cx="432.4" cy="334.5" r="5.7"/><circle cx="437.2" cy="317.6" r="5.7"/><circle cx="442.0" cy="344.5" r="5.7"/><circle cx="456.2" cy="361.8" r="5.7"/></g>
<rect x="180.05" y="126.10" width="380.95" height="381.75" fill="none" stroke="#000" stroke-width="3.9"/>
<path d="M180.05 507.85V523.85M275.29 507.85V523.85M370.52 507.85V523.85M465.76 507.85V523.85M561.00 507.85V523.85M180.05 507.85H163.95M180.05 431.50H163.95M180.05 355.15H163.95M180.05 278.80H163.95M180.05 202.45H163.95M180.05 126.10H163.95" stroke="#000" stroke-width="3.9" fill="none"/>
<g font-weight="700" font-size="28.6" fill="#000" stroke="#000" stroke-width="0.5">
<text x="180.05" y="556.3" text-anchor="middle">0</text>
<text x="275.29" y="556.3" text-anchor="middle">20</text>
<text x="370.52" y="556.3" text-anchor="middle">40</text>
<text x="465.76" y="556.3" text-anchor="middle">60</text>
<text x="561.00" y="556.3" text-anchor="middle">80</text>
<text x="157.55" y="517.65" text-anchor="end">-0.10</text>
<text x="157.55" y="441.30" text-anchor="end">-0.05</text>
<text x="157.55" y="364.95" text-anchor="end">0.00</text>
<text x="157.55" y="288.60" text-anchor="end">0.05</text>
<text x="157.55" y="212.25" text-anchor="end">0.10</text>
<text x="157.55" y="135.90" text-anchor="end">0.15</text>
</g>
<text x="370.72" y="603" text-anchor="middle" font-weight="700" font-size="31.2" stroke="#000" stroke-width="0.5">HAMD</text>
<text transform="translate(74.45 316.98) rotate(-90)" text-anchor="middle" font-weight="700" font-size="31.2" stroke="#000" stroke-width="0.5">EC</text>
<text transform="translate(0.4 63.4) scale(1.034 1)" font-weight="700" font-size="87" id="letA">A</text>
<text x="192.2" y="92.6" font-size="53.3" id="titA">For All MDDs</text>
</g>
<g id="panelB">
<rect x="756.20" y="129.50" width="374.30" height="374.95" fill="#e6e7e7"/>
<path d="M816.32 126.10V507.85M879.83 126.10V507.85M943.35 126.10V507.85M1006.87 126.10V507.85M1070.38 126.10V507.85M752.80 431.50H1133.90M752.80 355.15H1133.90M752.80 278.80H1133.90M752.80 202.45H1133.90" stroke="#fff" stroke-width="4" fill="none"/>
<path d="M803.61 345.53 L1083.09 329.10" stroke="#000" stroke-width="3.6" fill="none"/>
<path d="M803.61 341.08 L810.60 340.96 L817.59 340.82 L824.57 340.67 L831.56 340.51 L838.55 340.31 L845.53 340.09 L852.52 339.84 L859.51 339.55 L866.49 339.21 L873.48 338.83 L880.47 338.39 L887.46 337.91 L894.44 337.38 L901.43 336.81 L908.42 336.21 L915.40 335.58 L922.39 334.92 L929.38 334.25 L936.36 333.57 L943.35 332.87 L950.34 332.16 L957.32 331.44 L964.31 330.72 L971.30 329.99 L978.28 329.25 L985.27 328.52 L992.26 327.77 L999.24 327.03 L1006.23 326.28 L1013.22 325.53 L1020.21 324.78 L1027.19 324.03 L1034.18 323.27 L1041.17 322.52 L1048.15 321.76 L1055.14 321.00 L1062.13 320.24 L1069.11 319.48 L1076.10 318.72 L1083.09 317.96" stroke="#000" stroke-width="1.9" fill="none" stroke-dasharray="6.4 3.5"/>
<path d="M803.61 349.98 L810.60 349.28 L817.59 348.59 L824.57 347.92 L831.56 347.27 L838.55 346.64 L845.53 346.04 L852.52 345.47 L859.51 344.94 L866.49 344.45 L873.48 344.02 L880.47 343.63 L887.46 343.30 L894.44 343.00 L901.43 342.75 L908.42 342.53 L915.40 342.34 L922.39 342.17 L929.38 342.02 L936.36 341.89 L943.35 341.76 L950.34 341.65 L957.32 341.54 L964.31 341.45 L971.30 341.35 L978.28 341.27 L985.27 341.18 L992.26 341.10 L999.24 341.03 L1006.23 340.95 L1013.22 340.88 L1020.21 340.81 L1027.19 340.74 L1034.18 340.68 L1041.17 340.61 L1048.15 340.55 L1055.14 340.48 L1062.13 340.42 L1069.11 340.36 L1076.10 340.30 L1083.09 340.24" stroke="#000" stroke-width="1.9" fill="none" stroke-dasharray="6.4 3.5"/>
<g fill="#0810ff" fill-opacity="0.58"><circle cx="816.3" cy="340.0" r="5.7"/><circle cx="816.3" cy="342.7" r="5.7"/><circle cx="816.3" cy="342.9" r="5.7"/><circle cx="816.3" cy="351.7" r="5.7"/><circle cx="816.3" cy="351.8" r="5.7"/><circle cx="816.3" cy="354.6" r="5.7"/><circle cx="816.3" cy="356.7" r="5.7"/><circle cx="816.3" cy="358.0" r="5.7"/><circle cx="822.7" cy="335.0" r="5.7"/><circle cx="822.7" cy="336.2" r="5.7"/><circle cx="822.7" cy="336.9" r="5.7"/><circle cx="822.7" cy="337.4" r="5.7"/><circle cx="822.7" cy="342.5" r="5.7"/><circle cx="822.7" cy="342.8" r="5.7"/><circle cx="822.7" cy="347.1" r="5.7"/><circle cx="822.7" cy="349.4" r="5.7"/><circle cx="822.7" cy="359.8" r="5.7"/><circle cx="822.7" cy="360.0" r="5.7"/><circle cx="829.0" cy="318.0" r="5.7"/><circle cx="829.0" cy="321.9" r="5.7"/><circle cx="829.0" cy="323.4" r="5.7"/><circle cx="829.0" cy="324.8" r="5.7"/><circle cx="829.0" cy="328.3" r="5.7"/><circle cx="829.0" cy="330.6" r="5.7"/><circle cx="829.0" cy="335.5" r="5.7"/><circle cx="829.0" cy="339.4" r="5.7"/><circle cx="829.0" cy="345.2" r="5.7"/><circle cx="829.0" cy="356.2" r="5.7"/><circle cx="829.0" cy="360.8" r="5.7"/><circle cx="829.0" cy="364.0" r="5.7"/><circle cx="835.4" cy="314.0" r="5.7"/><circle cx="835.4" cy="316.8" r="5.7"/><circle cx="835.4" cy="322.2" r="5.7"/><circle cx="835.4" cy="326.5" r="5.7"/><circle cx="835.4" cy="330.0" r="5.7"/><circle cx="835.4" cy="330.4" r="5.7"/><circle cx="835.4" cy="339.6" r="5.7"/><circle cx="835.4" cy="346.8" r="5.7"/><circle cx="835.4" cy="347.7" r="5.7"/><circle cx="835.4" cy="353.7" r="5.7"/><circle cx="835.4" cy="358.4" r="5.7"/><circle cx="835.4" cy="360.3" r="5.7"/><circle cx="835.4" cy="360.7" r="5.7"/><circle cx="835.4" cy="368.0" r="5.7"/><circle cx="841.7" cy="301.0" r="5.7"/><circle cx="841.7" cy="310.5" r="5.7"/><circle cx="841.7" cy="310.8" r="5.7"/><circle cx="841.7" cy="318.3" r="5.7"/><circle cx="841.7" cy="338.4" r="5.7"/><circle cx="841.7" cy="339.8" r="5.7"/><circle cx="841.7" cy="341.7" r="5.7"/><circle cx="841.7" cy="344.5" r="5.7"/><circle cx="841.7" cy="345.8" r="5.7"/><circle cx="841.7" cy="345.9" r="5.7"/><circle cx="841.7" cy="346.2" r="5.7"/><circle cx="841.7" cy="350.6" r="5.7"/><circle cx="841.7" cy="352.3" r="5.7"/><circle cx="841.7" cy="353.6" r="5.7"/><circle cx="841.7" cy="355.2" r="5.7"/><circle cx="841.7" cy="362.2" r="5.7"/><circle cx="841.7" cy="364.0" r="5.7"/><circle cx="848.1" cy="300.0" r="5.7"/><circle cx="848.1" cy="316.4" r="5.7"/><circle cx="848.1" cy="327.9" r="5.7"/><circle cx="848.1" cy="330.4" r="5.7"/><circle cx="848.1" cy="331.6" r="5.7"/><circle cx="848.1" cy="332.9" r="5.7"/><circle cx="848.1" cy="335.5" r="5.7"/><circle cx="848.1" cy="338.1" r="5.7"/><circle cx="848.1" cy="340.6" r="5.7"/><circle cx="848.1" cy="342.0" r="5.7"/><circle cx="848.1" cy="345.4" r="5.7"/><circle cx="848.1" cy="347.7" r="5.7"/><circle cx="848.1" cy="347.8" r="5.7"/><circle cx="848.1" cy="350.1" r="5.7"/><circle cx="848.1" cy="352.6" r="5.7"/><circle cx="848.1" cy="354.9" r="5.7"/><circle cx="848.1" cy="357.2" r="5.7"/><circle cx="848.1" cy="359.4" r="5.7"/><circle cx="848.1" cy="362.9" r="5.7"/><circle cx="848.1" cy="374.0" r="5.7"/><circle cx="854.4" cy="290.0" r="5.7"/><circle cx="854.4" cy="315.6" r="5.7"/><circle cx="854.4" cy="319.9" r="5.7"/><circle cx="854.4" cy="321.3" r="5.7"/><circle cx="854.4" cy="323.2" r="5.7"/><circle cx="854.4" cy="328.4" r="5.7"/><circle cx="854.4" cy="330.0" r="5.7"/><circle cx="854.4" cy="330.3" r="5.7"/><circle cx="854.4" cy="330.9" r="5.7"/><circle cx="854.4" cy="332.5" r="5.7"/><circle cx="854.4" cy="334.7" r="5.7"/><circle cx="854.4" cy="336.2" r="5.7"/><circle cx="854.4" cy="338.0" r="5.7"/><circle cx="854.4" cy="338.8" r="5.7"/><circle cx="854.4" cy="340.7" r="5.7"/><circle cx="854.4" cy="341.1" r="5.7"/><circle cx="854.4" cy="341.9" r="5.7"/><circle cx="854.4" cy="345.8" r="5.7"/><circle cx="854.4" cy="346.5" r="5.7"/><circle cx="854.4" cy="350.2" r="5.7"/><circle cx="854.4" cy="355.8" r="5.7"/><circle cx="854.4" cy="360.2" r="5.7"/><circle cx="854.4" cy="360.9" r="5.7"/><circle cx="854.4" cy="361.0" r="5.7"/><circle cx="854.4" cy="366.0" r="5.7"/><circle cx="854.4" cy="372.9" r="5.7"/><circle cx="854.4" cy="373.5" r="5.7"/><circle cx="854.4" cy="375.0" r="5.7"/><circle cx="854.4" cy="378.0" r="5.7"/><circle cx="860.8" cy="286.0" r="5.7"/><circle cx="860.8" cy="290.9" r="5.7"/><circle cx="860.8" cy="297.0" r="5.7"/><circle cx="860.8" cy="300.1" r="5.7"/><circle cx="860.8" cy="304.4" r="5.7"/><circle cx="860.8" cy="306.7" r="5.7"/><circle cx="860.8" cy="309.8" r="5.7"/><circle cx="860.8" cy="313.5" r="5.7"/><circle cx="860.8" cy="314.3" r="5.7"/><circle cx="860.8" cy="316.4" r="5.7"/><circle cx="860.8" cy="318.4" r="5.7"/><circle cx="860.8" cy="318.4" r="5.7"/><circle cx="860.8" cy="319.8" r="5.7"/><circle cx="860.8" cy="322.2" r="5.7"/><circle cx="860.8" cy="322.6" r="5.7"/><circle cx="860.8" cy="327.4" r="5.7"/><circle cx="860.8" cy="328.6" r="5.7"/><circle cx="860.8" cy="329.5" r="5.7"/><circle cx="860.8" cy="330.9" r="5.7"/><circle cx="860.8" cy="331.7" r="5.7"/><circle cx="860.8" cy="333.2" r="5.7"/><circle cx="860.8" cy="334.9" r="5.7"/><circle cx="860.8" cy="336.5" r="5.7"/><circle cx="860.8" cy="341.1" r="5.7"/><circle cx="860.8" cy="341.3" r="5.7"/><circle cx="860.8" cy="343.8" r="5.7"/><circle cx="860.8" cy="346.5" r="5.7"/><circle cx="860.8" cy="347.8" r="5.7"/><circle cx="860.8" cy="348.0" r="5.7"/><circle cx="860.8" cy="349.9" r="5.7"/><circle cx="860.8" cy="353.4" r="5.7"/><circle cx="860.8" cy="354.3" r="5.7"/><circle cx="860.8" cy="355.6" r="5.7"/><circle cx="860.8" cy="355.7" r="5.7"/><circle cx="860.8" cy="359.1" r="5.7"/><circle cx="860.8" cy="360.5" r="5.7"/><circle cx="860.8" cy="361.4" r="5.7"/><circle cx="860.8" cy="363.6" r="5.7"/><circle cx="860.8" cy="364.8" r="5.7"/><circle cx="860.8" cy="366.0" r="5.7"/><circle cx="860.8" cy="366.6" r="5.7"/><circle cx="860.8" cy="368.0" r="5.7"/><circle cx="860.8" cy="379.2" r="5.7"/><circle cx="860.8" cy="380.0" r="5.7"/><circle cx="867.1" cy="290.0" r="5.7"/><circle cx="867.1" cy="293.1" r="5.7"/><circle cx="867.1" cy="295.8" r="5.7"/><circle cx="867.1" cy="296.6" r="5.7"/><circle cx="867.1" cy="301.0" r="5.7"/><circle cx="867.1" cy="301.8" r="5.7"/><circle cx="867.1" cy="305.8" r="5.7"/><circle cx="867.1" cy="307.0" r="5.7"/><circle cx="867.1" cy="309.9" r="5.7"/><circle cx="867.1" cy="310.0" r="5.7"/><circle cx="867.1" cy="311.3" r="5.7"/><circle cx="867.1" cy="312.7" r="5.7"/><circle cx="867.1" cy="314.1" r="5.7"/><circle cx="867.1" cy="314.7" r="5.7"/><circle cx="867.1" cy="314.7" r="5.7"/><circle cx="867.1" cy="315.5" r="5.7"/><circle cx="867.1" cy="315.6" r="5.7"/><circle cx="867.1" cy="317.1" r="5.7"/><circle cx="867.1" cy="321.4" r="5.7"/><circle cx="867.1" cy="322.1" r="5.7"/><circle cx="867.1" cy="325.4" r="5.7"/><circle cx="867.1" cy="330.2" r="5.7"/><circle cx="867.1" cy="330.4" r="5.7"/><circle cx="867.1" cy="332.8" r="5.7"/><circle cx="867.1" cy="333.6" r="5.7"/><circle cx="867.1" cy="336.0" r="5.7"/><circle cx="867.1" cy="337.6" r="5.7"/><circle cx="867.1" cy="337.7" r="5.7"/><circle cx="867.1" cy="338.7" r="5.7"/><circle cx="867.1" cy="339.1" r="5.7"/><circle cx="867.1" cy="341.0" r="5.7"/><circle cx="867.1" cy="341.6" r="5.7"/><circle cx="867.1" cy="342.2" r="5.7"/><circle cx="867.1" cy="343.7" r="5.7"/><circle cx="867.1" cy="344.0" r="5.7"/><circle cx="867.1" cy="344.2" r="5.7"/><circle cx="867.1" cy="346.5" r="5.7"/><circle cx="867.1" cy="347.9" r="5.7"/><circle cx="867.1" cy="348.3" r="5.7"/><circle cx="867.1" cy="351.2" r="5.7"/><circle cx="867.1" cy="352.7" r="5.7"/><circle cx="867.1" cy="355.4" r="5.7"/><circle cx="867.1" cy="357.1" r="5.7"/><circle cx="867.1" cy="359.9" r="5.7"/><circle cx="867.1" cy="360.4" r="5.7"/><circle cx="867.1" cy="360.6" r="5.7"/><circle cx="867.1" cy="365.6" r="5.7"/><circle cx="867.1" cy="366.2" r="5.7"/><circle cx="867.1" cy="370.5" r="5.7"/><circle cx="867.1" cy="373.7" r="5.7"/><circle cx="867.1" cy="381.1" r="5.7"/><circle cx="867.1" cy="381.2" r="5.7"/><circle cx="867.1" cy="386.0" r="5.7"/><circle cx="867.1" cy="386.2" r="5.7"/><circle cx="867.1" cy="398.0" r="5.7"/><circle cx="873.5" cy="281.0" r="5.7"/><circle cx="873.5" cy="282.6" r="5.7"/><circle cx="873.5" cy="292.0" r="5.7"/><circle cx="873.5" cy="296.7" r="5.7"/><circle cx="873.5" cy="298.7" r="5.7"/><circle cx="873.5" cy="299.6" r="5.7"/><circle cx="873.5" cy="300.4" r="5.7"/><circle cx="873.5" cy="304.2" r="5.7"/><circle cx="873.5" cy="307.9" r="5.7"/><circle cx="873.5" cy="309.8" r="5.7"/><circle cx="873.5" cy="313.3" r="5.7"/><circle cx="873.5" cy="313.7" r="5.7"/><circle cx="873.5" cy="313.9" r="5.7"/><circle cx="873.5" cy="317.6" r="5.7"/><circle cx="873.5" cy="318.0" r="5.7"/><circle cx="873.5" cy="319.8" r="5.7"/><circle cx="873.5" cy="322.6" r="5.7"/><circle cx="873.5" cy="324.6" r="5.7"/><circle cx="873.5" cy="326.3" r="5.7"/><circle cx="873.5" cy="326.3" r="5.7"/><circle cx="873.5" cy="329.2" r="5.7"/><circle cx="873.5" cy="331.3" r="5.7"/><circle cx="873.5" cy="331.6" r="5.7"/><circle cx="873.5" cy="332.0" r="5.7"/><circle cx="873.5" cy="332.5" r="5.7"/><circle cx="873.5" cy="334.3" r="5.7"/><circle cx="873.5" cy="334.7" r="5.7"/><circle cx="873.5" cy="334.9" r="5.7"/><circle cx="873.5" cy="337.4" r="5.7"/><circle cx="873.5" cy="340.0" r="5.7"/><circle cx="873.5" cy="342.3" r="5.7"/><circle cx="873.5" cy="344.1" r="5.7"/><circle cx="873.5" cy="344.6" r="5.7"/><circle cx="873.5" cy="344.8" r="5.7"/><circle cx="873.5" cy="346.7" r="5.7"/><circle cx="873.5" cy="347.1" r="5.7"/><circle cx="873.5" cy="347.4" r="5.7"/><circle cx="873.5" cy="349.3" r="5.7"/><circle cx="873.5" cy="350.0" r="5.7"/><circle cx="873.5" cy="352.1" r="5.7"/><circle cx="873.5" cy="353.0" r="5.7"/><circle cx="873.5" cy="353.4" r="5.7"/><circle cx="873.5" cy="355.4" r="5.7"/><circle cx="873.5" cy="357.4" r="5.7"/><circle cx="873.5" cy="359.1" r="5.7"/><circle cx="873.5" cy="360.4" r="5.7"/><circle cx="873.5" cy="360.8" r="5.7"/><circle cx="873.5" cy="362.0" r="5.7"/><circle cx="873.5" cy="362.6" r="5.7"/><circle cx="873.5" cy="362.7" r="5.7"/><circle cx="873.5" cy="362.7" r="5.7"/><circle cx="873.5" cy="364.0" r="5.7"/><circle cx="873.5" cy="366.2" r="5.7"/><circle cx="873.5" cy="366.9" r="5.7"/><circle cx="873.5" cy="368.9" r="5.7"/><circle cx="873.5" cy="372.3" r="5.7"/><circle cx="873.5" cy="376.6" r="5.7"/><circle cx="873.5" cy="381.7" r="5.7"/><circle cx="873.5" cy="382.9" r="5.7"/><circle cx="873.5" cy="384.7" r="5.7"/><circle cx="873.5" cy="392.0" r="5.7"/><circle cx="873.5" cy="403.0" r="5.7"/><circle cx="873.5" cy="404.0" r="5.7"/><circle cx="879.8" cy="283.0" r="5.7"/><circle cx="879.8" cy="290.2" r="5.7"/><circle cx="879.8" cy="292.5" r="5.7"/><circle cx="879.8" cy="294.0" r="5.7"/><circle cx="879.8" cy="295.1" r="5.7"/><circle cx="879.8" cy="296.8" r="5.7"/><circle cx="879.8" cy="297.2" r="5.7"/><circle cx="879.8" cy="299.4" r="5.7"/><circle cx="879.8" cy="299.7" r="5.7"/><circle cx="879.8" cy="300.7" r="5.7"/><circle cx="879.8" cy="303.1" r="5.7"/><circle cx="879.8" cy="303.4" r="5.7"/><circle cx="879.8" cy="305.8" r="5.7"/><circle cx="879.8" cy="306.1" r="5.7"/><circle cx="879.8" cy="311.2" r="5.7"/><circle cx="879.8" cy="314.0" r="5.7"/><circle cx="879.8" cy="314.7" r="5.7"/><circle cx="879.8" cy="315.9" r="5.7"/><circle cx="879.8" cy="317.0" r="5.7"/><circle cx="879.8" cy="319.3" r="5.7"/><circle cx="879.8" cy="320.1" r="5.7"/><circle cx="879.8" cy="320.5" r="5.7"/><circle cx="879.8" cy="321.9" r="5.7"/><circle cx="879.8" cy="325.6" r="5.7"/><circle cx="879.8" cy="327.9" r="5.7"/><circle cx="879.8" cy="328.1" r="5.7"/><circle cx="879.8" cy="328.8" r="5.7"/><circle cx="879.8" cy="334.3" r="5.7"/><circle cx="879.8" cy="334.4" r="5.7"/><circle cx="879.8" cy="336.6" r="5.7"/><circle cx="879.8" cy="337.6" r="5.7"/><circle cx="879.8" cy="337.9" r="5.7"/><circle cx="879.8" cy="338.0" r="5.7"/><circle cx="879.8" cy="338.5" r="5.7"/><circle cx="879.8" cy="339.0" r="5.7"/><circle cx="879.8" cy="340.6" r="5.7"/><circle cx="879.8" cy="342.6" r="5.7"/><circle cx="879.8" cy="343.4" r="5.7"/><circle cx="879.8" cy="344.8" r="5.7"/><circle cx="879.8" cy="345.4" r="5.7"/><circle cx="879.8" cy="347.5" r="5.7"/><circle cx="879.8" cy="347.7" r="5.7"/><circle cx="879.8" cy="348.5" r="5.7"/><circle cx="879.8" cy="350.0" r="5.7"/><circle cx="879.8" cy="350.9" r="5.7"/><circle cx="879.8" cy="353.2" r="5.7"/><circle cx="879.8" cy="353.4" r="5.7"/><circle cx="879.8" cy="354.1" r="5.7"/><circle cx="879.8" cy="355.3" r="5.7"/><circle cx="879.8" cy="357.0" r="5.7"/><circle cx="879.8" cy="357.1" r="5.7"/><circle cx="879.8" cy="357.8" r="5.7"/><circle cx="879.8" cy="359.0" r="5.7"/><circle cx="879.8" cy="360.5" r="5.7"/><circle cx="879.8" cy="363.9" r="5.7"/><circle cx="879.8" cy="364.0" r="5.7"/><circle cx="879.8" cy="368.3" r="5.7"/><circle cx="879.8" cy="370.1" r="5.7"/><circle cx="879.8" cy="371.6" r="5.7"/><circle cx="879.8" cy="374.0" r="5.7"/><circle cx="879.8" cy="375.5" r="5.7"/><circle cx="879.8" cy="378.4" r="5.7"/><circle cx="879.8" cy="378.9" r="5.7"/><circle cx="879.8" cy="381.0" r="5.7"/><circle cx="879.8" cy="389.6" r="5.7"/><circle cx="879.8" cy="393.0" r="5.7"/><circle cx="886.2" cy="280.0" r="5.7"/><circle cx="886.2" cy="283.3" r="5.7"/><circle cx="886.2" cy="284.8" r="5.7"/><circle cx="886.2" cy="289.3" r="5.7"/><circle cx="886.2" cy="291.0" r="5.7"/><circle cx="886.2" cy="295.5" r="5.7"/><circle cx="886.2" cy="300.4" r="5.7"/><circle cx="886.2" cy="302.0" r="5.7"/><circle cx="886.2" cy="303.9" r="5.7"/><circle cx="886.2" cy="307.5" r="5.7"/><circle cx="886.2" cy="308.7" r="5.7"/><circle cx="886.2" cy="309.8" r="5.7"/><circle cx="886.2" cy="310.6" r="5.7"/><circle cx="886.2" cy="311.8" r="5.7"/><circle cx="886.2" cy="312.7" r="5.7"/><circle cx="886.2" cy="313.6" r="5.7"/><circle cx="886.2" cy="314.0" r="5.7"/><circle cx="886.2" cy="315.8" r="5.7"/><circle cx="886.2" cy="316.2" r="5.7"/><circle cx="886.2" cy="316.3" r="5.7"/><circle cx="886.2" cy="317.2" r="5.7"/><circle cx="886.2" cy="317.2" r="5.7"/><circle cx="886.2" cy="318.4" r="5.7"/><circle cx="886.2" cy="319.1" r="5.7"/><circle cx="886.2" cy="321.0" r="5.7"/><circle cx="886.2" cy="323.0" r="5.7"/><circle cx="886.2" cy="324.8" r="5.7"/><circle cx="886.2" cy="325.3" r="5.7"/><circle cx="886.2" cy="326.4" r="5.7"/><circle cx="886.2" cy="326.9" r="5.7"/><circle cx="886.2" cy="326.9" r="5.7"/><circle cx="886.2" cy="327.2" r="5.7"/><circle cx="886.2" cy="327.8" r="5.7"/><circle cx="886.2" cy="331.8" r="5.7"/><circle cx="886.2" cy="333.7" r="5.7"/><circle cx="886.2" cy="334.2" r="5.7"/><circle cx="886.2" cy="336.0" r="5.7"/><circle cx="886.2" cy="336.6" r="5.7"/><circle cx="886.2" cy="336.7" r="5.7"/><circle cx="886.2" cy="339.2" r="5.7"/><circle cx="886.2" cy="339.4" r="5.7"/><circle cx="886.2" cy="340.2" r="5.7"/><circle cx="886.2" cy="343.5" r="5.7"/><circle cx="886.2" cy="343.7" r="5.7"/><circle cx="886.2" cy="345.9" r="5.7"/><circle cx="886.2" cy="347.1" r="5.7"/><circle cx="886.2" cy="348.1" r="5.7"/><circle cx="886.2" cy="349.7" r="5.7"/><circle cx="886.2" cy="350.8" r="5.7"/><circle cx="886.2" cy="351.3" r="5.7"/><circle cx="886.2" cy="351.9" r="5.7"/><circle cx="886.2" cy="352.6" r="5.7"/><circle cx="886.2" cy="353.5" r="5.7"/><circle cx="886.2" cy="353.6" r="5.7"/><circle cx="886.2" cy="353.6" r="5.7"/><circle cx="886.2" cy="355.7" r="5.7"/><circle cx="886.2" cy="356.8" r="5.7"/><circle cx="886.2" cy="358.4" r="5.7"/><circle cx="886.2" cy="363.5" r="5.7"/><circle cx="886.2" cy="364.8" r="5.7"/><circle cx="886.2" cy="367.5" r="5.7"/><circle cx="886.2" cy="368.2" r="5.7"/><circle cx="886.2" cy="371.8" r="5.7"/><circle cx="886.2" cy="372.8" r="5.7"/><circle cx="886.2" cy="376.6" r="5.7"/><circle cx="886.2" cy="377.7" r="5.7"/><circle cx="886.2" cy="378.0" r="5.7"/><circle cx="886.2" cy="379.7" r="5.7"/><circle cx="886.2" cy="380.4" r="5.7"/><circle cx="886.2" cy="385.1" r="5.7"/><circle cx="886.2" cy="388.4" r="5.7"/><circle cx="886.2" cy="390.0" r="5.7"/><circle cx="892.5" cy="273.0" r="5.7"/><circle cx="892.5" cy="281.6" r="5.7"/><circle cx="892.5" cy="284.0" r="5.7"/><circle cx="892.5" cy="284.9" r="5.7"/><circle cx="892.5" cy="286.6" r="5.7"/><circle cx="892.5" cy="290.4" r="5.7"/><circle cx="892.5" cy="294.7" r="5.7"/><circle cx="892.5" cy="294.9" r="5.7"/><circle cx="892.5" cy="299.6" r="5.7"/><circle cx="892.5" cy="300.5" r="5.7"/><circle cx="892.5" cy="303.2" r="5.7"/><circle cx="892.5" cy="303.2" r="5.7"/><circle cx="892.5" cy="303.9" r="5.7"/><circle cx="892.5" cy="304.1" r="5.7"/><circle cx="892.5" cy="306.4" r="5.7"/><circle cx="892.5" cy="308.1" r="5.7"/><circle cx="892.5" cy="309.5" r="5.7"/><circle cx="892.5" cy="312.6" r="5.7"/><circle cx="892.5" cy="313.9" r="5.7"/><circle cx="892.5" cy="314.2" r="5.7"/><circle cx="892.5" cy="315.9" r="5.7"/><circle cx="892.5" cy="316.3" r="5.7"/><circle cx="892.5" cy="317.4" r="5.7"/><circle cx="892.5" cy="321.8" r="5.7"/><circle cx="892.5" cy="322.5" r="5.7"/><circle cx="892.5" cy="325.2" r="5.7"/><circle cx="892.5" cy="326.5" r="5.7"/><circle cx="892.5" cy="327.2" r="5.7"/><circle cx="892.5" cy="331.6" r="5.7"/><circle cx="892.5" cy="332.1" r="5.7"/><circle cx="892.5" cy="334.4" r="5.7"/><circle cx="892.5" cy="336.2" r="5.7"/><circle cx="892.5" cy="338.9" r="5.7"/><circle cx="892.5" cy="339.6" r="5.7"/><circle cx="892.5" cy="340.4" r="5.7"/><circle cx="892.5" cy="340.5" r="5.7"/><circle cx="892.5" cy="341.0" r="5.7"/><circle cx="892.5" cy="341.8" r="5.7"/><circle cx="892.5" cy="341.9" r="5.7"/><circle cx="892.5" cy="343.0" r="5.7"/><circle cx="892.5" cy="343.4" r="5.7"/><circle cx="892.5" cy="344.7" r="5.7"/><circle cx="892.5" cy="346.0" r="5.7"/><circle cx="892.5" cy="346.6" r="5.7"/><circle cx="892.5" cy="349.0" r="5.7"/><circle cx="892.5" cy="350.0" r="5.7"/><circle cx="892.5" cy="352.4" r="5.7"/><circle cx="892.5" cy="352.9" r="5.7"/><circle cx="892.5" cy="353.3" r="5.7"/><circle cx="892.5" cy="355.7" r="5.7"/><circle cx="892.5" cy="356.7" r="5.7"/><circle cx="892.5" cy="356.8" r="5.7"/><circle cx="892.5" cy="357.3" r="5.7"/><circle cx="892.5" cy="358.6" r="5.7"/><circle cx="892.5" cy="360.2" r="5.7"/><circle cx="892.5" cy="363.4" r="5.7"/><circle cx="892.5" cy="363.7" r="5.7"/><circle cx="892.5" cy="364.0" r="5.7"/><circle cx="892.5" cy="366.6" r="5.7"/><circle cx="892.5" cy="367.7" r="5.7"/><circle cx="892.5" cy="369.7" r="5.7"/><circle cx="892.5" cy="369.7" r="5.7"/><circle cx="892.5" cy="370.9" r="5.7"/><circle cx="892.5" cy="376.0" r="5.7"/><circle cx="892.5" cy="376.1" r="5.7"/><circle cx="892.5" cy="377.1" r="5.7"/><circle cx="892.5" cy="378.4" r="5.7"/><circle cx="892.5" cy="380.8" r="5.7"/><circle cx="892.5" cy="380.8" r="5.7"/><circle cx="892.5" cy="381.0" r="5.7"/><circle cx="892.5" cy="383.8" r="5.7"/><circle cx="892.5" cy="384.4" r="5.7"/><circle cx="892.5" cy="393.0" r="5.7"/><circle cx="898.9" cy="278.0" r="5.7"/><circle cx="898.9" cy="280.5" r="5.7"/><circle cx="898.9" cy="285.0" r="5.7"/><circle cx="898.9" cy="285.9" r="5.7"/><circle cx="898.9" cy="288.6" r="5.7"/><circle cx="898.9" cy="289.0" r="5.7"/><circle cx="898.9" cy="291.2" r="5.7"/><circle cx="898.9" cy="292.6" r="5.7"/><circle cx="898.9" cy="293.1" r="5.7"/><circle cx="898.9" cy="293.4" r="5.7"/><circle cx="898.9" cy="297.4" r="5.7"/><circle cx="898.9" cy="298.2" r="5.7"/><circle cx="898.9" cy="299.9" r="5.7"/><circle cx="898.9" cy="302.0" r="5.7"/><circle cx="898.9" cy="305.5" r="5.7"/><circle cx="898.9" cy="306.6" r="5.7"/><circle cx="898.9" cy="306.9" r="5.7"/><circle cx="898.9" cy="310.6" r="5.7"/><circle cx="898.9" cy="311.3" r="5.7"/><circle cx="898.9" cy="311.5" r="5.7"/><circle cx="898.9" cy="312.0" r="5.7"/><circle cx="898.9" cy="312.3" r="5.7"/><circle cx="898.9" cy="312.8" r="5.7"/><circle cx="898.9" cy="315.4" r="5.7"/><circle cx="898.9" cy="316.6" r="5.7"/><circle cx="898.9" cy="318.0" r="5.7"/><circle cx="898.9" cy="318.4" r="5.7"/><circle cx="898.9" cy="318.5" r="5.7"/><circle cx="898.9" cy="320.0" r="5.7"/><circle cx="898.9" cy="322.6" r="5.7"/><circle cx="898.9" cy="323.8" r="5.7"/><circle cx="898.9" cy="324.1" r="5.7"/><circle cx="898.9" cy="329.2" r="5.7"/><circle cx="898.9" cy="329.3" r="5.7"/><circle cx="898.9" cy="329.3" r="5.7"/><circle cx="898.9" cy="334.7" r="5.7"/><circle cx="898.9" cy="338.0" r="5.7"/><circle cx="898.9" cy="338.5" r="5.7"/><circle cx="898.9" cy="341.1" r="5.7"/><circle cx="898.9" cy="342.2" r="5.7"/><circle cx="898.9" cy="342.8" r="5.7"/><circle cx="898.9" cy="346.1" r="5.7"/><circle cx="898.9" cy="347.0" r="5.7"/><circle cx="898.9" cy="347.2" r="5.7"/><circle cx="898.9" cy="347.8" r="5.7"/><circle cx="898.9" cy="350.5" r="5.7"/><circle cx="898.9" cy="352.9" r="5.7"/><circle cx="898.9" cy="353.4" r="5.7"/><circle cx="898.9" cy="355.5" r="5.7"/><circle cx="898.9" cy="356.9" r="5.7"/><circle cx="898.9" cy="358.1" r="5.7"/><circle cx="898.9" cy="358.6" r="5.7"/><circle cx="898.9" cy="359.7" r="5.7"/><circle cx="898.9" cy="360.2" r="5.7"/><circle cx="898.9" cy="361.8" r="5.7"/><circle cx="898.9" cy="364.8" r="5.7"/><circle cx="898.9" cy="365.2" r="5.7"/><circle cx="898.9" cy="366.1" r="5.7"/><circle cx="898.9" cy="366.9" r="5.7"/><circle cx="898.9" cy="368.5" r="5.7"/><circle cx="898.9" cy="370.0" r="5.7"/><circle cx="898.9" cy="372.0" r="5.7"/><circle cx="898.9" cy="372.1" r="5.7"/><circle cx="898.9" cy="372.7" r="5.7"/><circle cx="898.9" cy="373.5" r="5.7"/><circle cx="898.9" cy="374.1" r="5.7"/><circle cx="898.9" cy="374.9" r="5.7"/><circle cx="898.9" cy="379.0" r="5.7"/><circle cx="898.9" cy="379.6" r="5.7"/><circle cx="898.9" cy="382.8" r="5.7"/><circle cx="898.9" cy="382.8" r="5.7"/><circle cx="898.9" cy="387.4" r="5.7"/><circle cx="898.9" cy="391.0" r="5.7"/><circle cx="905.2" cy="282.3" r="5.7"/><circle cx="905.2" cy="285.0" r="5.7"/><circle cx="905.2" cy="287.6" r="5.7"/><circle cx="905.2" cy="291.3" r="5.7"/><circle cx="905.2" cy="292.6" r="5.7"/><circle cx="905.2" cy="296.0" r="5.7"/><circle cx="905.2" cy="296.6" r="5.7"/><circle cx="905.2" cy="298.0" r="5.7"/><circle cx="905.2" cy="301.3" r="5.7"/><circle cx="905.2" cy="302.9" r="5.7"/><circle cx="905.2" cy="303.4" r="5.7"/><circle cx="905.2" cy="304.6" r="5.7"/><circle cx="905.2" cy="305.2" r="5.7"/><circle cx="905.2" cy="307.4" r="5.7"/><circle cx="905.2" cy="308.5" r="5.7"/><circle cx="905.2" cy="310.6" r="5.7"/><circle cx="905.2" cy="311.4" r="5.7"/><circle cx="905.2" cy="313.3" r="5.7"/><circle cx="905.2" cy="313.7" r="5.7"/><circle cx="905.2" cy="314.2" r="5.7"/><circle cx="905.2" cy="315.1" r="5.7"/><circle cx="905.2" cy="315.3" r="5.7"/><circle cx="905.2" cy="316.3" r="5.7"/><circle cx="905.2" cy="316.8" r="5.7"/><circle cx="905.2" cy="317.0" r="5.7"/><circle cx="905.2" cy="318.7" r="5.7"/><circle cx="905.2" cy="318.7" r="5.7"/><circle cx="905.2" cy="319.8" r="5.7"/><circle cx="905.2" cy="319.9" r="5.7"/><circle cx="905.2" cy="322.6" r="5.7"/><circle cx="905.2" cy="324.4" r="5.7"/><circle cx="905.2" cy="324.9" r="5.7"/><circle cx="905.2" cy="325.9" r="5.7"/><circle cx="905.2" cy="325.9" r="5.7"/><circle cx="905.2" cy="327.7" r="5.7"/><circle cx="905.2" cy="328.3" r="5.7"/><circle cx="905.2" cy="329.7" r="5.7"/><circle cx="905.2" cy="330.8" r="5.7"/><circle cx="905.2" cy="330.9" r="5.7"/><circle cx="905.2" cy="331.7" r="5.7"/><circle cx="905.2" cy="332.0" r="5.7"/><circle cx="905.2" cy="337.3" r="5.7"/><circle cx="905.2" cy="338.9" r="5.7"/><circle cx="905.2" cy="341.4" r="5.7"/><circle cx="905.2" cy="342.1" r="5.7"/><circle cx="905.2" cy="342.9" r="5.7"/><circle cx="905.2" cy="345.4" r="5.7"/><circle cx="905.2" cy="347.3" r="5.7"/><circle cx="905.2" cy="349.9" r="5.7"/><circle cx="905.2" cy="351.8" r="5.7"/><circle cx="905.2" cy="353.1" r="5.7"/><circle cx="905.2" cy="354.2" r="5.7"/><circle cx="905.2" cy="356.1" r="5.7"/><circle cx="905.2" cy="356.8" r="5.7"/><circle cx="905.2" cy="360.3" r="5.7"/><circle cx="905.2" cy="360.7" r="5.7"/><circle cx="905.2" cy="360.9" r="5.7"/><circle cx="905.2" cy="364.8" r="5.7"/><circle cx="905.2" cy="366.7" r="5.7"/><circle cx="905.2" cy="368.2" r="5.7"/><circle cx="905.2" cy="369.5" r="5.7"/><circle cx="905.2" cy="371.0" r="5.7"/><circle cx="905.2" cy="372.5" r="5.7"/><circle cx="905.2" cy="373.7" r="5.7"/><circle cx="905.2" cy="374.0" r="5.7"/><circle cx="905.2" cy="378.9" r="5.7"/><circle cx="905.2" cy="378.9" r="5.7"/><circle cx="905.2" cy="382.2" r="5.7"/><circle cx="905.2" cy="386.0" r="5.7"/><circle cx="905.2" cy="387.8" r="5.7"/><circle cx="905.2" cy="392.2" r="5.7"/><circle cx="911.6" cy="280.0" r="5.7"/><circle cx="911.6" cy="280.4" r="5.7"/><circle cx="911.6" cy="281.8" r="5.7"/><circle cx="911.6" cy="286.2" r="5.7"/><circle cx="911.6" cy="291.0" r="5.7"/><circle cx="911.6" cy="291.2" r="5.7"/><circle cx="911.6" cy="295.5" r="5.7"/><circle cx="911.6" cy="296.4" r="5.7"/><circle cx="911.6" cy="299.1" r="5.7"/><circle cx="911.6" cy="300.6" r="5.7"/><circle cx="911.6" cy="302.9" r="5.7"/><circle cx="911.6" cy="303.3" r="5.7"/><circle cx="911.6" cy="304.2" r="5.7"/><circle cx="911.6" cy="305.0" r="5.7"/><circle cx="911.6" cy="307.2" r="5.7"/><circle cx="911.6" cy="311.2" r="5.7"/><circle cx="911.6" cy="312.1" r="5.7"/><circle cx="911.6" cy="313.2" r="5.7"/><circle cx="911.6" cy="313.8" r="5.7"/><circle cx="911.6" cy="317.5" r="5.7"/><circle cx="911.6" cy="318.2" r="5.7"/><circle cx="911.6" cy="318.5" r="5.7"/><circle cx="911.6" cy="319.8" r="5.7"/><circle cx="911.6" cy="321.5" r="5.7"/><circle cx="911.6" cy="326.7" r="5.7"/><circle cx="911.6" cy="326.9" r="5.7"/><circle cx="911.6" cy="327.7" r="5.7"/><circle cx="911.6" cy="330.7" r="5.7"/><circle cx="911.6" cy="331.5" r="5.7"/><circle cx="911.6" cy="335.3" r="5.7"/><circle cx="911.6" cy="336.4" r="5.7"/><circle cx="911.6" cy="336.7" r="5.7"/><circle cx="911.6" cy="337.1" r="5.7"/><circle cx="911.6" cy="337.4" r="5.7"/><circle cx="911.6" cy="338.3" r="5.7"/><circle cx="911.6" cy="338.9" r="5.7"/><circle cx="911.6" cy="339.7" r="5.7"/><circle cx="911.6" cy="339.9" r="5.7"/><circle cx="911.6" cy="340.4" r="5.7"/><circle cx="911.6" cy="343.2" r="5.7"/><circle cx="911.6" cy="343.7" r="5.7"/><circle cx="911.6" cy="343.8" r="5.7"/><circle cx="911.6" cy="346.1" r="5.7"/><circle cx="911.6" cy="346.2" r="5.7"/><circle cx="911.6" cy="346.6" r="5.7"/><circle cx="911.6" cy="347.4" r="5.7"/><circle cx="911.6" cy="349.8" r="5.7"/><circle cx="911.6" cy="352.2" r="5.7"/><circle cx="911.6" cy="354.6" r="5.7"/><circle cx="911.6" cy="355.0" r="5.7"/><circle cx="911.6" cy="355.7" r="5.7"/><circle cx="911.6" cy="357.9" r="5.7"/><circle cx="911.6" cy="359.9" r="5.7"/><circle cx="911.6" cy="362.1" r="5.7"/><circle cx="911.6" cy="364.3" r="5.7"/><circle cx="911.6" cy="365.3" r="5.7"/><circle cx="911.6" cy="366.2" r="5.7"/><circle cx="911.6" cy="367.4" r="5.7"/><circle cx="911.6" cy="367.6" r="5.7"/><circle cx="911.6" cy="370.3" r="5.7"/><circle cx="911.6" cy="372.0" r="5.7"/><circle cx="911.6" cy="372.7" r="5.7"/><circle cx="911.6" cy="374.0" r="5.7"/><circle cx="911.6" cy="376.5" r="5.7"/><circle cx="911.6" cy="379.2" r="5.7"/><circle cx="911.6" cy="383.5" r="5.7"/><circle cx="911.6" cy="385.0" r="5.7"/><circle cx="911.6" cy="386.0" r="5.7"/><circle cx="917.9" cy="281.0" r="5.7"/><circle cx="917.9" cy="284.2" r="5.7"/><circle cx="917.9" cy="288.7" r="5.7"/><circle cx="917.9" cy="291.4" r="5.7"/><circle cx="917.9" cy="292.0" r="5.7"/><circle cx="917.9" cy="292.5" r="5.7"/><circle cx="917.9" cy="294.8" r="5.7"/><circle cx="917.9" cy="296.1" r="5.7"/><circle cx="917.9" cy="298.4" r="5.7"/><circle cx="917.9" cy="299.1" r="5.7"/><circle cx="917.9" cy="303.8" r="5.7"/><circle cx="917.9" cy="304.1" r="5.7"/><circle cx="917.9" cy="308.4" r="5.7"/><circle cx="917.9" cy="311.3" r="5.7"/><circle cx="917.9" cy="315.0" r="5.7"/><circle cx="917.9" cy="317.0" r="5.7"/><circle cx="917.9" cy="319.1" r="5.7"/><circle cx="917.9" cy="319.5" r="5.7"/><circle cx="917.9" cy="319.6" r="5.7"/><circle cx="917.9" cy="319.8" r="5.7"/><circle cx="917.9" cy="321.0" r="5.7"/><circle cx="917.9" cy="326.6" r="5.7"/><circle cx="917.9" cy="328.6" r="5.7"/><circle cx="917.9" cy="328.7" r="5.7"/><circle cx="917.9" cy="330.0" r="5.7"/><circle cx="917.9" cy="331.1" r="5.7"/><circle cx="917.9" cy="331.4" r="5.7"/><circle cx="917.9" cy="332.2" r="5.7"/><circle cx="917.9" cy="332.4" r="5.7"/><circle cx="917.9" cy="335.8" r="5.7"/><circle cx="917.9" cy="336.0" r="5.7"/><circle cx="917.9" cy="336.8" r="5.7"/><circle cx="917.9" cy="337.4" r="5.7"/><circle cx="917.9" cy="337.5" r="5.7"/><circle cx="917.9" cy="338.3" r="5.7"/><circle cx="917.9" cy="339.9" r="5.7"/><circle cx="917.9" cy="339.9" r="5.7"/><circle cx="917.9" cy="343.4" r="5.7"/><circle cx="917.9" cy="344.7" r="5.7"/><circle cx="917.9" cy="347.9" r="5.7"/><circle cx="917.9" cy="348.1" r="5.7"/><circle cx="917.9" cy="349.3" r="5.7"/><circle cx="917.9" cy="350.6" r="5.7"/><circle cx="917.9" cy="351.8" r="5.7"/><circle cx="917.9" cy="352.1" r="5.7"/><circle cx="917.9" cy="353.9" r="5.7"/><circle cx="917.9" cy="354.6" r="5.7"/><circle cx="917.9" cy="355.5" r="5.7"/><circle cx="917.9" cy="356.4" r="5.7"/><circle cx="917.9" cy="357.8" r="5.7"/><circle cx="917.9" cy="360.3" r="5.7"/><circle cx="917.9" cy="361.1" r="5.7"/><circle cx="917.9" cy="362.4" r="5.7"/><circle cx="917.9" cy="365.4" r="5.7"/><circle cx="917.9" cy="369.7" r="5.7"/><circle cx="917.9" cy="371.9" r="5.7"/><circle cx="917.9" cy="376.0" r="5.7"/><circle cx="917.9" cy="376.2" r="5.7"/><circle cx="917.9" cy="377.7" r="5.7"/><circle cx="917.9" cy="380.6" r="5.7"/><circle cx="917.9" cy="388.0" r="5.7"/><circle cx="924.3" cy="282.0" r="5.7"/><circle cx="924.3" cy="288.6" r="5.7"/><circle cx="924.3" cy="289.0" r="5.7"/><circle cx="924.3" cy="293.0" r="5.7"/><circle cx="924.3" cy="293.0" r="5.7"/><circle cx="924.3" cy="297.2" r="5.7"/><circle cx="924.3" cy="298.7" r="5.7"/><circle cx="924.3" cy="301.3" r="5.7"/><circle cx="924.3" cy="307.7" r="5.7"/><circle cx="924.3" cy="307.8" r="5.7"/><circle cx="924.3" cy="308.7" r="5.7"/><circle cx="924.3" cy="309.1" r="5.7"/><circle cx="924.3" cy="310.2" r="5.7"/><circle cx="924.3" cy="315.1" r="5.7"/><circle cx="924.3" cy="317.7" r="5.7"/><circle cx="924.3" cy="318.0" r="5.7"/><circle cx="924.3" cy="319.7" r="5.7"/><circle cx="924.3" cy="321.7" r="5.7"/><circle cx="924.3" cy="321.7" r="5.7"/><circle cx="924.3" cy="325.0" r="5.7"/><circle cx="924.3" cy="325.8" r="5.7"/><circle cx="924.3" cy="329.3" r="5.7"/><circle cx="924.3" cy="329.3" r="5.7"/><circle cx="924.3" cy="331.0" r="5.7"/><circle cx="924.3" cy="332.7" r="5.7"/><circle cx="924.3" cy="332.8" r="5.7"/><circle cx="924.3" cy="333.5" r="5.7"/><circle cx="924.3" cy="336.4" r="5.7"/><circle cx="924.3" cy="339.2" r="5.7"/><circle cx="924.3" cy="339.8" r="5.7"/><circle cx="924.3" cy="340.8" r="5.7"/><circle cx="924.3" cy="341.8" r="5.7"/><circle cx="924.3" cy="342.2" r="5.7"/><circle cx="924.3" cy="342.7" r="5.7"/><circle cx="924.3" cy="345.7" r="5.7"/><circle cx="924.3" cy="346.8" r="5.7"/><circle cx="924.3" cy="347.2" r="5.7"/><circle cx="924.3" cy="347.6" r="5.7"/><circle cx="924.3" cy="347.6" r="5.7"/><circle cx="924.3" cy="350.3" r="5.7"/><circle cx="924.3" cy="351.9" r="5.7"/><circle cx="924.3" cy="353.7" r="5.7"/><circle cx="924.3" cy="356.9" r="5.7"/><circle cx="924.3" cy="358.1" r="5.7"/><circle cx="924.3" cy="360.6" r="5.7"/><circle cx="924.3" cy="361.4" r="5.7"/><circle cx="924.3" cy="365.7" r="5.7"/><circle cx="924.3" cy="369.4" r="5.7"/><circle cx="924.3" cy="371.1" r="5.7"/><circle cx="924.3" cy="373.9" r="5.7"/><circle cx="924.3" cy="380.0" r="5.7"/><circle cx="924.3" cy="389.9" r="5.7"/><circle cx="924.3" cy="392.0" r="5.7"/><circle cx="930.6" cy="294.0" r="5.7"/><circle cx="930.6" cy="295.7" r="5.7"/><circle cx="930.6" cy="302.1" r="5.7"/><circle cx="930.6" cy="305.0" r="5.7"/><circle cx="930.6" cy="307.4" r="5.7"/><circle cx="930.6" cy="307.8" r="5.7"/><circle cx="930.6" cy="312.3" r="5.7"/><circle cx="930.6" cy="315.7" r="5.7"/><circle cx="930.6" cy="320.5" r="5.7"/><circle cx="930.6" cy="325.5" r="5.7"/><circle cx="930.6" cy="325.6" r="5.7"/><circle cx="930.6" cy="326.1" r="5.7"/><circle cx="930.6" cy="327.3" r="5.7"/><circle cx="930.6" cy="329.2" r="5.7"/><circle cx="930.6" cy="330.3" r="5.7"/><circle cx="930.6" cy="330.7" r="5.7"/><circle cx="930.6" cy="331.5" r="5.7"/><circle cx="930.6" cy="331.6" r="5.7"/><circle cx="930.6" cy="333.2" r="5.7"/><circle cx="930.6" cy="336.4" r="5.7"/><circle cx="930.6" cy="338.9" r="5.7"/><circle cx="930.6" cy="343.6" r="5.7"/><circle cx="930.6" cy="343.8" r="5.7"/><circle cx="930.6" cy="344.1" r="5.7"/><circle cx="930.6" cy="345.9" r="5.7"/><circle cx="930.6" cy="348.0" r="5.7"/><circle cx="930.6" cy="348.0" r="5.7"/><circle cx="930.6" cy="348.8" r="5.7"/><circle cx="930.6" cy="349.1" r="5.7"/><circle cx="930.6" cy="349.8" r="5.7"/><circle cx="930.6" cy="350.4" r="5.7"/><circle cx="930.6" cy="351.9" r="5.7"/><circle cx="930.6" cy="352.3" r="5.7"/><circle cx="930.6" cy="352.3" r="5.7"/><circle cx="930.6" cy="354.0" r="5.7"/><circle cx="930.6" cy="357.1" r="5.7"/><circle cx="930.6" cy="357.2" r="5.7"/><circle cx="930.6" cy="361.3" r="5.7"/><circle cx="930.6" cy="362.7" r="5.7"/><circle cx="930.6" cy="364.0" r="5.7"/><circle cx="930.6" cy="365.7" r="5.7"/><circle cx="930.6" cy="369.7" r="5.7"/><circle cx="930.6" cy="373.9" r="5.7"/><circle cx="930.6" cy="374.1" r="5.7"/><circle cx="930.6" cy="376.0" r="5.7"/><circle cx="937.0" cy="297.0" r="5.7"/><circle cx="937.0" cy="302.4" r="5.7"/><circle cx="937.0" cy="304.4" r="5.7"/><circle cx="937.0" cy="308.1" r="5.7"/><circle cx="937.0" cy="308.5" r="5.7"/><circle cx="937.0" cy="311.9" r="5.7"/><circle cx="937.0" cy="314.5" r="5.7"/><circle cx="937.0" cy="317.3" r="5.7"/><circle cx="937.0" cy="320.2" r="5.7"/><circle cx="937.0" cy="326.8" r="5.7"/><circle cx="937.0" cy="327.7" r="5.7"/><circle cx="937.0" cy="329.8" r="5.7"/><circle cx="937.0" cy="332.1" r="5.7"/><circle cx="937.0" cy="333.6" r="5.7"/><circle cx="937.0" cy="337.0" r="5.7"/><circle cx="937.0" cy="337.5" r="5.7"/><circle cx="937.0" cy="338.6" r="5.7"/><circle cx="937.0" cy="340.8" r="5.7"/><circle cx="937.0" cy="343.4" r="5.7"/><circle cx="937.0" cy="344.1" r="5.7"/><circle cx="937.0" cy="346.5" r="5.7"/><circle cx="937.0" cy="346.7" r="5.7"/><circle cx="937.0" cy="347.0" r="5.7"/><circle cx="937.0" cy="348.4" r="5.7"/><circle cx="937.0" cy="350.7" r="5.7"/><circle cx="937.0" cy="350.7" r="5.7"/><circle cx="937.0" cy="352.4" r="5.7"/><circle cx="937.0" cy="355.1" r="5.7"/><circle cx="937.0" cy="356.6" r="5.7"/><circle cx="937.0" cy="356.9" r="5.7"/><circle cx="937.0" cy="361.2" r="5.7"/><circle cx="937.0" cy="362.1" r="5.7"/><circle cx="937.0" cy="376.0" r="5.7"/><circle cx="943.4" cy="300.0" r="5.7"/><circle cx="943.4" cy="301.1" r="5.7"/><circle cx="943.4" cy="308.1" r="5.7"/><circle cx="943.4" cy="311.4" r="5.7"/><circle cx="943.4" cy="317.1" r="5.7"/><circle cx="943.4" cy="318.1" r="5.7"/><circle cx="943.4" cy="320.2" r="5.7"/><circle cx="943.4" cy="323.8" r="5.7"/><circle cx="943.4" cy="325.0" r="5.7"/><circle cx="943.4" cy="325.1" r="5.7"/><circle cx="943.4" cy="329.2" r="5.7"/><circle cx="943.4" cy="330.1" r="5.7"/><circle cx="943.4" cy="331.6" r="5.7"/><circle cx="943.4" cy="334.1" r="5.7"/><circle cx="943.4" cy="335.6" r="5.7"/><circle cx="943.4" cy="337.4" r="5.7"/><circle cx="943.4" cy="338.0" r="5.7"/><circle cx="943.4" cy="342.1" r="5.7"/><circle cx="943.4" cy="343.1" r="5.7"/><circle cx="943.4" cy="343.3" r="5.7"/><circle cx="943.4" cy="348.3" r="5.7"/><circle cx="943.4" cy="351.2" r="5.7"/><circle cx="943.4" cy="351.8" r="5.7"/><circle cx="943.4" cy="357.9" r="5.7"/><circle cx="943.4" cy="371.0" r="5.7"/><circle cx="949.7" cy="300.0" r="5.7"/><circle cx="949.7" cy="303.8" r="5.7"/><circle cx="949.7" cy="309.1" r="5.7"/><circle cx="949.7" cy="317.1" r="5.7"/><circle cx="949.7" cy="317.5" r="5.7"/><circle cx="949.7" cy="318.4" r="5.7"/><circle cx="949.7" cy="321.0" r="5.7"/><circle cx="949.7" cy="325.2" r="5.7"/><circle cx="949.7" cy="329.8" r="5.7"/><circle cx="949.7" cy="333.7" r="5.7"/><circle cx="949.7" cy="333.9" r="5.7"/><circle cx="949.7" cy="334.5" r="5.7"/><circle cx="949.7" cy="338.4" r="5.7"/><circle cx="949.7" cy="340.3" r="5.7"/><circle cx="949.7" cy="343.8" r="5.7"/><circle cx="949.7" cy="357.8" r="5.7"/><circle cx="949.7" cy="362.2" r="5.7"/><circle cx="949.7" cy="366.0" r="5.7"/><circle cx="956.1" cy="303.0" r="5.7"/><circle cx="956.1" cy="306.3" r="5.7"/><circle cx="956.1" cy="310.2" r="5.7"/><circle cx="956.1" cy="314.3" r="5.7"/><circle cx="956.1" cy="318.4" r="5.7"/><circle cx="956.1" cy="319.9" r="5.7"/><circle cx="956.1" cy="325.9" r="5.7"/><circle cx="956.1" cy="329.6" r="5.7"/><circle cx="956.1" cy="333.4" r="5.7"/><circle cx="956.1" cy="337.8" r="5.7"/><circle cx="956.1" cy="343.2" r="5.7"/><circle cx="956.1" cy="359.3" r="5.7"/><circle cx="956.1" cy="362.0" r="5.7"/><circle cx="962.4" cy="304.0" r="5.7"/><circle cx="962.4" cy="308.1" r="5.7"/><circle cx="962.4" cy="317.3" r="5.7"/><circle cx="962.4" cy="321.8" r="5.7"/><circle cx="962.4" cy="323.7" r="5.7"/><circle cx="962.4" cy="331.3" r="5.7"/><circle cx="962.4" cy="336.2" r="5.7"/><circle cx="962.4" cy="342.0" r="5.7"/><circle cx="962.4" cy="343.8" r="5.7"/><circle cx="962.4" cy="345.1" r="5.7"/><circle cx="962.4" cy="351.7" r="5.7"/><circle cx="962.4" cy="358.0" r="5.7"/><circle cx="968.8" cy="306.0" r="5.7"/><circle cx="968.8" cy="319.1" r="5.7"/><circle cx="968.8" cy="321.3" r="5.7"/><circle cx="968.8" cy="330.8" r="5.7"/><circle cx="968.8" cy="331.0" r="5.7"/><circle cx="968.8" cy="333.5" r="5.7"/><circle cx="968.8" cy="333.8" r="5.7"/><circle cx="968.8" cy="340.7" r="5.7"/><circle cx="968.8" cy="347.4" r="5.7"/><circle cx="968.8" cy="355.0" r="5.7"/><circle cx="975.1" cy="310.0" r="5.7"/><circle cx="975.1" cy="323.5" r="5.7"/><circle cx="975.1" cy="325.7" r="5.7"/><circle cx="975.1" cy="329.5" r="5.7"/><circle cx="975.1" cy="338.5" r="5.7"/><circle cx="975.1" cy="341.4" r="5.7"/><circle cx="975.1" cy="350.0" r="5.7"/><circle cx="981.5" cy="315.0" r="5.7"/><circle cx="981.5" cy="330.9" r="5.7"/><circle cx="981.5" cy="335.8" r="5.7"/><circle cx="981.5" cy="336.6" r="5.7"/><circle cx="981.5" cy="348.0" r="5.7"/></g>
<g fill="#0810ff" fill-opacity="0.58"><circle cx="803.6" cy="308.6" r="5.7"/><circle cx="803.6" cy="326.0" r="5.7"/><circle cx="803.6" cy="339.0" r="5.7"/><circle cx="803.6" cy="340.0" r="5.7"/><circle cx="803.6" cy="340.6" r="5.7"/><circle cx="803.6" cy="341.2" r="5.7"/><circle cx="803.6" cy="421.3" r="5.7"/><circle cx="810.0" cy="284.6" r="5.7"/><circle cx="810.0" cy="331.0" r="5.7"/><circle cx="810.0" cy="363.9" r="5.7"/><circle cx="810.0" cy="397.0" r="5.7"/><circle cx="810.0" cy="404.4" r="5.7"/><circle cx="816.3" cy="319.3" r="5.7"/><circle cx="816.3" cy="331.7" r="5.7"/><circle cx="816.3" cy="390.3" r="5.7"/><circle cx="822.7" cy="274.4" r="5.7"/><circle cx="822.7" cy="301.2" r="5.7"/><circle cx="822.7" cy="302.0" r="5.7"/><circle cx="822.7" cy="311.0" r="5.7"/><circle cx="822.7" cy="319.3" r="5.7"/><circle cx="822.7" cy="382.9" r="5.7"/><circle cx="829.0" cy="243.0" r="5.7"/><circle cx="829.0" cy="369.7" r="5.7"/><circle cx="835.4" cy="262.3" r="5.7"/><circle cx="835.4" cy="298.3" r="5.7"/><circle cx="835.4" cy="374.6" r="5.7"/><circle cx="835.4" cy="382.9" r="5.7"/><circle cx="835.4" cy="383.5" r="5.7"/><circle cx="835.4" cy="390.3" r="5.7"/><circle cx="835.4" cy="416.3" r="5.7"/><circle cx="841.7" cy="273.1" r="5.7"/><circle cx="841.7" cy="393.6" r="5.7"/><circle cx="848.1" cy="263.6" r="5.7"/><circle cx="848.1" cy="297.9" r="5.7"/><circle cx="848.1" cy="379.6" r="5.7"/><circle cx="848.1" cy="401.0" r="5.7"/><circle cx="854.4" cy="284.6" r="5.7"/><circle cx="854.4" cy="384.5" r="5.7"/><circle cx="854.4" cy="385.0" r="5.7"/><circle cx="854.4" cy="399.4" r="5.7"/><circle cx="854.4" cy="422.3" r="5.7"/><circle cx="860.8" cy="276.0" r="5.7"/><circle cx="867.1" cy="260.2" r="5.7"/><circle cx="867.1" cy="274.4" r="5.7"/><circle cx="867.1" cy="410.2" r="5.7"/><circle cx="867.1" cy="420.8" r="5.7"/><circle cx="867.1" cy="433.2" r="5.7"/><circle cx="873.5" cy="253.7" r="5.7"/><circle cx="873.5" cy="414.3" r="5.7"/><circle cx="873.5" cy="423.7" r="5.7"/><circle cx="873.5" cy="438.2" r="5.7"/><circle cx="879.8" cy="240.6" r="5.7"/><circle cx="879.8" cy="266.4" r="5.7"/><circle cx="879.8" cy="273.9" r="5.7"/><circle cx="879.8" cy="274.5" r="5.7"/><circle cx="879.8" cy="400.0" r="5.7"/><circle cx="879.8" cy="412.6" r="5.7"/><circle cx="879.8" cy="427.9" r="5.7"/><circle cx="879.8" cy="437.4" r="5.7"/><circle cx="879.8" cy="444.0" r="5.7"/><circle cx="886.2" cy="258.1" r="5.7"/><circle cx="886.2" cy="404.4" r="5.7"/><circle cx="886.2" cy="446.4" r="5.7"/><circle cx="892.5" cy="189.8" r="5.7"/><circle cx="892.5" cy="400.0" r="5.7"/><circle cx="892.5" cy="434.0" r="5.7"/><circle cx="892.5" cy="446.4" r="5.7"/><circle cx="898.9" cy="258.0" r="5.7"/><circle cx="898.9" cy="259.8" r="5.7"/><circle cx="898.9" cy="401.0" r="5.7"/><circle cx="898.9" cy="436.2" r="5.7"/><circle cx="905.2" cy="242.3" r="5.7"/><circle cx="905.2" cy="396.0" r="5.7"/><circle cx="905.2" cy="407.7" r="5.7"/><circle cx="905.2" cy="408.2" r="5.7"/><circle cx="911.6" cy="226.9" r="5.7"/><circle cx="911.6" cy="234.7" r="5.7"/><circle cx="911.6" cy="254.1" r="5.7"/><circle cx="911.6" cy="273.9" r="5.7"/><circle cx="911.6" cy="274.5" r="5.7"/><circle cx="911.6" cy="400.0" r="5.7"/><circle cx="911.6" cy="412.6" r="5.7"/><circle cx="911.6" cy="429.2" r="5.7"/><circle cx="917.9" cy="266.4" r="5.7"/><circle cx="917.9" cy="270.0" r="5.7"/><circle cx="917.9" cy="397.0" r="5.7"/><circle cx="917.9" cy="418.4" r="5.7"/><circle cx="924.3" cy="217.4" r="5.7"/><circle cx="924.3" cy="273.5" r="5.7"/><circle cx="924.3" cy="400.2" r="5.7"/><circle cx="924.3" cy="420.4" r="5.7"/><circle cx="930.6" cy="172.1" r="5.7"/><circle cx="930.6" cy="226.1" r="5.7"/><circle cx="930.6" cy="231.1" r="5.7"/><circle cx="930.6" cy="289.6" r="5.7"/><circle cx="937.0" cy="237.4" r="5.7"/><circle cx="937.0" cy="250.8" r="5.7"/><circle cx="937.0" cy="288.0" r="5.7"/><circle cx="937.0" cy="382.9" r="5.7"/><circle cx="937.0" cy="383.5" r="5.7"/><circle cx="937.0" cy="401.0" r="5.7"/><circle cx="937.0" cy="463.3" r="5.7"/><circle cx="943.4" cy="273.9" r="5.7"/><circle cx="943.4" cy="288.0" r="5.7"/><circle cx="943.4" cy="404.4" r="5.7"/><circle cx="943.4" cy="405.0" r="5.7"/><circle cx="949.7" cy="271.4" r="5.7"/><circle cx="949.7" cy="275.5" r="5.7"/><circle cx="949.7" cy="387.0" r="5.7"/><circle cx="949.7" cy="417.0" r="5.7"/><circle cx="949.7" cy="444.1" r="5.7"/><circle cx="956.1" cy="375.5" r="5.7"/><circle cx="956.1" cy="383.8" r="5.7"/><circle cx="962.4" cy="284.8" r="5.7"/><circle cx="962.4" cy="440.7" r="5.7"/><circle cx="968.8" cy="226.4" r="5.7"/><circle cx="968.8" cy="390.2" r="5.7"/><circle cx="975.1" cy="266.4" r="5.7"/><circle cx="975.1" cy="304.8" r="5.7"/><circle cx="975.1" cy="438.4" r="5.7"/><circle cx="981.5" cy="271.9" r="5.7"/><circle cx="981.5" cy="309.5" r="5.7"/><circle cx="981.5" cy="353.4" r="5.7"/><circle cx="981.5" cy="354.1" r="5.7"/><circle cx="981.5" cy="367.5" r="5.7"/><circle cx="981.5" cy="376.2" r="5.7"/><circle cx="987.8" cy="321.2" r="5.7"/><circle cx="994.2" cy="268.3" r="5.7"/><circle cx="994.2" cy="318.7" r="5.7"/><circle cx="994.2" cy="408.2" r="5.7"/><circle cx="1000.5" cy="169.9" r="5.7"/><circle cx="1000.5" cy="345.6" r="5.7"/><circle cx="1006.9" cy="299.7" r="5.7"/><circle cx="1006.9" cy="382.6" r="5.7"/><circle cx="1019.6" cy="395.5" r="5.7"/><circle cx="1025.9" cy="324.1" r="5.7"/><circle cx="1032.3" cy="278.7" r="5.7"/><circle cx="1032.3" cy="344.6" r="5.7"/><circle cx="1045.0" cy="357.3" r="5.7"/><circle cx="1051.3" cy="314.2" r="5.7"/><circle cx="1051.3" cy="335.2" r="5.7"/><circle cx="1057.7" cy="322.5" r="5.7"/><circle cx="1057.7" cy="326.1" r="5.7"/><circle cx="1083.1" cy="331.9" r="5.7"/></g>
<rect x="752.80" y="126.10" width="381.10" height="381.75" fill="none" stroke="#000" stroke-width="3.9"/>
<path d="M752.80 507.85V523.85M816.32 507.85V523.85M879.83 507.85V523.85M943.35 507.85V523.85M1006.87 507.85V523.85M1070.38 507.85V523.85M1133.90 507.85V523.85M752.80 507.85H736.70M752.80 431.50H736.70M752.80 355.15H736.70M752.80 278.80H736.70M752.80 202.45H736.70M752.80 126.10H736.70" stroke="#000" stroke-width="3.9" fill="none"/>
<g font-weight="700" font-size="28.6" fill="#000" stroke="#000" stroke-width="0.5">
<text x="752.80" y="556.3" text-anchor="middle">0</text>
<text x="816.32" y="556.3" text-anchor="middle">10</text>
<text x="879.83" y="556.3" text-anchor="middle">20</text>
<text x="943.35" y="556.3" text-anchor="middle">30</text>
<text x="1006.87" y="556.3" text-anchor="middle">40</text>
<text x="1070.38" y="556.3" text-anchor="middle">50</text>
<text x="1133.90" y="556.3" text-anchor="middle">60</text>
<text x="730.30" y="517.65" text-anchor="end">-0.10</text>
<text x="730.30" y="441.30" text-anchor="end">-0.05</text>
<text x="730.30" y="364.95" text-anchor="end">0.00</text>
<text x="730.30" y="288.60" text-anchor="end">0.05</text>
<text x="730.30" y="212.25" text-anchor="end">0.10</text>
<text x="730.30" y="135.90" text-anchor="end">0.15</text>
</g>
<text x="943.55" y="603" text-anchor="middle" font-weight="700" font-size="31.2" stroke="#000" stroke-width="0.5">HAMD</text>
<text transform="translate(647.20 316.98) rotate(-90)" text-anchor="middle" font-weight="700" font-size="31.2" stroke="#000" stroke-width="0.5">EC</text>
<text transform="translate(596.3 63.4) scale(0.974 1)" font-weight="700" font-size="87" id="letB">B</text>
<text x="815.3" y="92.6" font-size="53.3" id="titB">For FEDN</text>
</g>
<g id="panelC">
<rect x="1355.40" y="129.50" width="374.10" height="374.95" fill="#e6e7e7"/>
<path d="M1428.18 126.10V507.85M1504.36 126.10V507.85M1580.54 126.10V507.85M1656.72 126.10V507.85M1352.00 412.41H1732.90M1352.00 316.98H1732.90M1352.00 221.54H1732.90" stroke="#fff" stroke-width="4" fill="none"/>
<path d="M1420.56 315.83 L1710.05 284.79" stroke="#000" stroke-width="2.0" fill="none"/>
<path d="M1420.56 302.48 L1427.80 302.41 L1435.04 302.33 L1442.27 302.25 L1449.51 302.16 L1456.75 302.05 L1463.98 301.92 L1471.22 301.78 L1478.46 301.61 L1485.70 301.41 L1492.93 301.17 L1500.17 300.88 L1507.41 300.53 L1514.64 300.11 L1521.88 299.60 L1529.12 298.99 L1536.36 298.26 L1543.59 297.42 L1550.83 296.47 L1558.07 295.42 L1565.30 294.28 L1572.54 293.07 L1579.78 291.80 L1587.02 290.48 L1594.25 289.13 L1601.49 287.75 L1608.73 286.34 L1615.96 284.91 L1623.20 283.46 L1630.44 282.00 L1637.68 280.54 L1644.91 279.06 L1652.15 277.57 L1659.39 276.08 L1666.62 274.58 L1673.86 273.08 L1681.10 271.57 L1688.33 270.06 L1695.57 268.55 L1702.81 267.03 L1710.05 265.51" stroke="#000" stroke-width="1.9" fill="none" stroke-dasharray="6.4 3.5"/>
<path d="M1420.56 329.18 L1427.80 327.70 L1435.04 326.22 L1442.27 324.75 L1449.51 323.30 L1456.75 321.85 L1463.98 320.43 L1471.22 319.02 L1478.46 317.64 L1485.70 316.29 L1492.93 314.97 L1500.17 313.71 L1507.41 312.51 L1514.64 311.38 L1521.88 310.34 L1529.12 309.40 L1536.36 308.57 L1543.59 307.86 L1550.83 307.26 L1558.07 306.76 L1565.30 306.34 L1572.54 306.00 L1579.78 305.72 L1587.02 305.48 L1594.25 305.29 L1601.49 305.12 L1608.73 304.98 L1615.96 304.85 L1623.20 304.75 L1630.44 304.65 L1637.68 304.57 L1644.91 304.50 L1652.15 304.43 L1659.39 304.37 L1666.62 304.32 L1673.86 304.27 L1681.10 304.22 L1688.33 304.18 L1695.57 304.14 L1702.81 304.11 L1710.05 304.07" stroke="#000" stroke-width="1.9" fill="none" stroke-dasharray="6.4 3.5"/>
<g fill="#ef801c" fill-opacity="0.55"><circle cx="1420.6" cy="336.9" r="5.7"/><circle cx="1428.2" cy="323.6" r="5.7"/><circle cx="1443.4" cy="255.2" r="5.7"/><circle cx="1443.4" cy="274.4" r="5.7"/><circle cx="1451.0" cy="303.3" r="5.7"/><circle cx="1451.0" cy="360.5" r="5.7"/><circle cx="1458.7" cy="220.7" r="5.7"/><circle cx="1458.7" cy="294.7" r="5.7"/><circle cx="1458.7" cy="311.2" r="5.7"/><circle cx="1466.3" cy="270.0" r="5.7"/><circle cx="1473.9" cy="289.5" r="5.7"/><circle cx="1473.9" cy="307.5" r="5.7"/><circle cx="1481.5" cy="311.0" r="5.7"/><circle cx="1481.5" cy="323.0" r="5.7"/><circle cx="1481.5" cy="332.5" r="5.7"/><circle cx="1481.5" cy="345.0" r="5.7"/><circle cx="1481.5" cy="357.5" r="5.7"/><circle cx="1489.1" cy="221.1" r="5.7"/><circle cx="1489.1" cy="257.6" r="5.7"/><circle cx="1489.1" cy="265.5" r="5.7"/><circle cx="1489.1" cy="266.0" r="5.7"/><circle cx="1489.1" cy="266.5" r="5.7"/><circle cx="1489.1" cy="272.9" r="5.7"/><circle cx="1489.1" cy="292.1" r="5.7"/><circle cx="1489.1" cy="300.0" r="5.7"/><circle cx="1489.1" cy="302.0" r="5.7"/><circle cx="1489.1" cy="304.0" r="5.7"/><circle cx="1489.1" cy="306.0" r="5.7"/><circle cx="1489.1" cy="307.0" r="5.7"/><circle cx="1489.1" cy="309.0" r="5.7"/><circle cx="1489.1" cy="312.0" r="5.7"/><circle cx="1489.1" cy="327.0" r="5.7"/><circle cx="1489.1" cy="339.0" r="5.7"/><circle cx="1489.1" cy="340.2" r="5.7"/><circle cx="1489.1" cy="348.0" r="5.7"/><circle cx="1489.1" cy="355.5" r="5.7"/><circle cx="1489.1" cy="356.5" r="5.7"/><circle cx="1489.1" cy="363.3" r="5.7"/><circle cx="1489.1" cy="399.6" r="5.7"/><circle cx="1496.7" cy="226.5" r="5.7"/><circle cx="1496.7" cy="256.2" r="5.7"/><circle cx="1496.7" cy="267.0" r="5.7"/><circle cx="1496.7" cy="279.5" r="5.7"/><circle cx="1496.7" cy="292.5" r="5.7"/><circle cx="1496.7" cy="300.0" r="5.7"/><circle cx="1496.7" cy="305.0" r="5.7"/><circle cx="1496.7" cy="312.0" r="5.7"/><circle cx="1496.7" cy="331.0" r="5.7"/><circle cx="1496.7" cy="344.5" r="5.7"/><circle cx="1496.7" cy="362.0" r="5.7"/><circle cx="1496.7" cy="364.1" r="5.7"/><circle cx="1496.7" cy="373.2" r="5.7"/><circle cx="1496.7" cy="379.8" r="5.7"/><circle cx="1504.4" cy="198.3" r="5.7"/><circle cx="1504.4" cy="250.6" r="5.7"/><circle cx="1504.4" cy="266.0" r="5.7"/><circle cx="1504.4" cy="289.5" r="5.7"/><circle cx="1504.4" cy="297.5" r="5.7"/><circle cx="1504.4" cy="310.0" r="5.7"/><circle cx="1504.4" cy="312.0" r="5.7"/><circle cx="1504.4" cy="321.5" r="5.7"/><circle cx="1504.4" cy="322.6" r="5.7"/><circle cx="1504.4" cy="334.6" r="5.7"/><circle cx="1504.4" cy="359.4" r="5.7"/><circle cx="1512.0" cy="261.0" r="5.7"/><circle cx="1512.0" cy="262.0" r="5.7"/><circle cx="1512.0" cy="266.0" r="5.7"/><circle cx="1512.0" cy="288.0" r="5.7"/><circle cx="1512.0" cy="292.5" r="5.7"/><circle cx="1512.0" cy="300.0" r="5.7"/><circle cx="1512.0" cy="307.4" r="5.7"/><circle cx="1512.0" cy="310.0" r="5.7"/><circle cx="1512.0" cy="317.0" r="5.7"/><circle cx="1512.0" cy="326.0" r="5.7"/><circle cx="1512.0" cy="347.0" r="5.7"/><circle cx="1512.0" cy="361.0" r="5.7"/><circle cx="1512.0" cy="363.0" r="5.7"/><circle cx="1519.6" cy="238.2" r="5.7"/><circle cx="1519.6" cy="238.6" r="5.7"/><circle cx="1519.6" cy="248.6" r="5.7"/><circle cx="1519.6" cy="249.0" r="5.7"/><circle cx="1519.6" cy="249.4" r="5.7"/><circle cx="1519.6" cy="258.0" r="5.7"/><circle cx="1519.6" cy="274.2" r="5.7"/><circle cx="1519.6" cy="274.6" r="5.7"/><circle cx="1519.6" cy="275.0" r="5.7"/><circle cx="1519.6" cy="290.0" r="5.7"/><circle cx="1519.6" cy="292.5" r="5.7"/><circle cx="1519.6" cy="306.0" r="5.7"/><circle cx="1519.6" cy="308.6" r="5.7"/><circle cx="1519.6" cy="311.0" r="5.7"/><circle cx="1519.6" cy="314.0" r="5.7"/><circle cx="1519.6" cy="334.6" r="5.7"/><circle cx="1519.6" cy="335.2" r="5.7"/><circle cx="1519.6" cy="341.0" r="5.7"/><circle cx="1519.6" cy="357.0" r="5.7"/><circle cx="1519.6" cy="361.6" r="5.7"/><circle cx="1519.6" cy="379.0" r="5.7"/><circle cx="1527.2" cy="250.5" r="5.7"/><circle cx="1527.2" cy="263.4" r="5.7"/><circle cx="1527.2" cy="267.8" r="5.7"/><circle cx="1527.2" cy="275.8" r="5.7"/><circle cx="1527.2" cy="288.0" r="5.7"/><circle cx="1527.2" cy="289.0" r="5.7"/><circle cx="1527.2" cy="292.5" r="5.7"/><circle cx="1527.2" cy="308.0" r="5.7"/><circle cx="1527.2" cy="310.5" r="5.7"/><circle cx="1527.2" cy="311.5" r="5.7"/><circle cx="1527.2" cy="315.0" r="5.7"/><circle cx="1527.2" cy="328.4" r="5.7"/><circle cx="1527.2" cy="343.0" r="5.7"/><circle cx="1527.2" cy="343.6" r="5.7"/><circle cx="1527.2" cy="354.0" r="5.7"/><circle cx="1527.2" cy="355.1" r="5.7"/><circle cx="1527.2" cy="356.6" r="5.7"/><circle cx="1527.2" cy="380.6" r="5.7"/><circle cx="1527.2" cy="389.7" r="5.7"/><circle cx="1527.2" cy="393.3" r="5.7"/><circle cx="1534.8" cy="159.0" r="5.7"/><circle cx="1534.8" cy="185.4" r="5.7"/><circle cx="1534.8" cy="240.4" r="5.7"/><circle cx="1534.8" cy="240.8" r="5.7"/><circle cx="1534.8" cy="251.6" r="5.7"/><circle cx="1534.8" cy="284.5" r="5.7"/><circle cx="1534.8" cy="289.5" r="5.7"/><circle cx="1534.8" cy="308.0" r="5.7"/><circle cx="1534.8" cy="312.0" r="5.7"/><circle cx="1534.8" cy="312.5" r="5.7"/><circle cx="1534.8" cy="314.0" r="5.7"/><circle cx="1534.8" cy="316.0" r="5.7"/><circle cx="1534.8" cy="318.5" r="5.7"/><circle cx="1534.8" cy="322.0" r="5.7"/><circle cx="1534.8" cy="327.0" r="5.7"/><circle cx="1534.8" cy="333.4" r="5.7"/><circle cx="1534.8" cy="343.0" r="5.7"/><circle cx="1534.8" cy="343.6" r="5.7"/><circle cx="1534.8" cy="355.7" r="5.7"/><circle cx="1534.8" cy="361.6" r="5.7"/><circle cx="1534.8" cy="418.6" r="5.7"/><circle cx="1542.5" cy="195.4" r="5.7"/><circle cx="1542.5" cy="245.6" r="5.7"/><circle cx="1542.5" cy="255.5" r="5.7"/><circle cx="1542.5" cy="270.2" r="5.7"/><circle cx="1542.5" cy="297.4" r="5.7"/><circle cx="1542.5" cy="314.5" r="5.7"/><circle cx="1542.5" cy="315.5" r="5.7"/><circle cx="1542.5" cy="318.0" r="5.7"/><circle cx="1542.5" cy="322.0" r="5.7"/><circle cx="1542.5" cy="323.0" r="5.7"/><circle cx="1542.5" cy="324.0" r="5.7"/><circle cx="1542.5" cy="325.0" r="5.7"/><circle cx="1542.5" cy="332.0" r="5.7"/><circle cx="1542.5" cy="337.0" r="5.7"/><circle cx="1542.5" cy="363.0" r="5.7"/><circle cx="1542.5" cy="365.2" r="5.7"/><circle cx="1550.1" cy="186.1" r="5.7"/><circle cx="1550.1" cy="242.5" r="5.7"/><circle cx="1550.1" cy="260.3" r="5.7"/><circle cx="1550.1" cy="274.6" r="5.7"/><circle cx="1550.1" cy="278.0" r="5.7"/><circle cx="1550.1" cy="285.7" r="5.7"/><circle cx="1550.1" cy="286.0" r="5.7"/><circle cx="1550.1" cy="298.0" r="5.7"/><circle cx="1550.1" cy="301.0" r="5.7"/><circle cx="1550.1" cy="302.0" r="5.7"/><circle cx="1550.1" cy="302.8" r="5.7"/><circle cx="1550.1" cy="306.0" r="5.7"/><circle cx="1550.1" cy="310.0" r="5.7"/><circle cx="1550.1" cy="344.0" r="5.7"/><circle cx="1550.1" cy="345.0" r="5.7"/><circle cx="1550.1" cy="354.5" r="5.7"/><circle cx="1550.1" cy="355.8" r="5.7"/><circle cx="1557.7" cy="194.5" r="5.7"/><circle cx="1557.7" cy="238.5" r="5.7"/><circle cx="1557.7" cy="251.0" r="5.7"/><circle cx="1557.7" cy="251.5" r="5.7"/><circle cx="1557.7" cy="251.9" r="5.7"/><circle cx="1557.7" cy="260.3" r="5.7"/><circle cx="1557.7" cy="267.0" r="5.7"/><circle cx="1557.7" cy="272.7" r="5.7"/><circle cx="1557.7" cy="296.0" r="5.7"/><circle cx="1557.7" cy="332.5" r="5.7"/><circle cx="1557.7" cy="333.0" r="5.7"/><circle cx="1557.7" cy="340.8" r="5.7"/><circle cx="1557.7" cy="354.0" r="5.7"/><circle cx="1557.7" cy="355.1" r="5.7"/><circle cx="1557.7" cy="357.5" r="5.7"/><circle cx="1557.7" cy="358.0" r="5.7"/><circle cx="1557.7" cy="363.0" r="5.7"/><circle cx="1557.7" cy="376.2" r="5.7"/><circle cx="1565.3" cy="222.9" r="5.7"/><circle cx="1565.3" cy="260.4" r="5.7"/><circle cx="1565.3" cy="277.7" r="5.7"/><circle cx="1565.3" cy="280.0" r="5.7"/><circle cx="1565.3" cy="297.4" r="5.7"/><circle cx="1565.3" cy="306.0" r="5.7"/><circle cx="1565.3" cy="318.0" r="5.7"/><circle cx="1565.3" cy="318.5" r="5.7"/><circle cx="1565.3" cy="363.6" r="5.7"/><circle cx="1572.9" cy="236.1" r="5.7"/><circle cx="1572.9" cy="268.8" r="5.7"/><circle cx="1572.9" cy="287.5" r="5.7"/><circle cx="1572.9" cy="293.7" r="5.7"/><circle cx="1572.9" cy="318.5" r="5.7"/><circle cx="1572.9" cy="352.4" r="5.7"/><circle cx="1572.9" cy="387.2" r="5.7"/><circle cx="1572.9" cy="404.6" r="5.7"/><circle cx="1580.5" cy="275.2" r="5.7"/><circle cx="1580.5" cy="281.4" r="5.7"/><circle cx="1580.5" cy="282.0" r="5.7"/><circle cx="1580.5" cy="302.5" r="5.7"/><circle cx="1580.5" cy="303.6" r="5.7"/><circle cx="1580.5" cy="322.8" r="5.7"/><circle cx="1580.5" cy="338.5" r="5.7"/><circle cx="1588.2" cy="226.2" r="5.7"/><circle cx="1588.2" cy="255.4" r="5.7"/><circle cx="1588.2" cy="291.8" r="5.7"/><circle cx="1588.2" cy="340.1" r="5.7"/><circle cx="1595.8" cy="249.7" r="5.7"/><circle cx="1595.8" cy="297.1" r="5.7"/><circle cx="1595.8" cy="337.3" r="5.7"/><circle cx="1595.8" cy="359.5" r="5.7"/><circle cx="1603.4" cy="251.8" r="5.7"/><circle cx="1603.4" cy="271.5" r="5.7"/><circle cx="1603.4" cy="313.2" r="5.7"/><circle cx="1603.4" cy="324.0" r="5.7"/><circle cx="1603.4" cy="324.3" r="5.7"/><circle cx="1611.0" cy="294.3" r="5.7"/><circle cx="1611.0" cy="313.3" r="5.7"/><circle cx="1611.0" cy="323.0" r="5.7"/><circle cx="1611.0" cy="379.3" r="5.7"/><circle cx="1611.0" cy="379.5" r="5.7"/><circle cx="1618.6" cy="243.0" r="5.7"/><circle cx="1618.6" cy="269.8" r="5.7"/><circle cx="1618.6" cy="302.9" r="5.7"/><circle cx="1618.6" cy="304.8" r="5.7"/><circle cx="1618.6" cy="371.5" r="5.7"/><circle cx="1626.2" cy="267.8" r="5.7"/><circle cx="1626.2" cy="308.6" r="5.7"/><circle cx="1633.9" cy="244.3" r="5.7"/><circle cx="1641.5" cy="246.0" r="5.7"/><circle cx="1641.5" cy="300.3" r="5.7"/><circle cx="1649.1" cy="241.9" r="5.7"/><circle cx="1649.1" cy="289.8" r="5.7"/><circle cx="1649.1" cy="296.0" r="5.7"/><circle cx="1649.1" cy="312.2" r="5.7"/><circle cx="1656.7" cy="268.6" r="5.7"/><circle cx="1656.7" cy="313.1" r="5.7"/><circle cx="1664.3" cy="195.8" r="5.7"/><circle cx="1672.0" cy="324.5" r="5.7"/><circle cx="1679.6" cy="303.4" r="5.7"/><circle cx="1710.0" cy="243.0" r="5.7"/></g>
<rect x="1352.00" y="126.10" width="380.90" height="381.75" fill="none" stroke="#000" stroke-width="3.9"/>
<path d="M1352.00 507.85V523.85M1428.18 507.85V523.85M1504.36 507.85V523.85M1580.54 507.85V523.85M1656.72 507.85V523.85M1732.90 507.85V523.85M1352.00 507.85H1335.90M1352.00 412.41H1335.90M1352.00 316.98H1335.90M1352.00 221.54H1335.90M1352.00 126.10H1335.90" stroke="#000" stroke-width="3.9" fill="none"/>
<g font-weight="700" font-size="28.6" fill="#000" stroke="#000" stroke-width="0.5">
<text x="1352.00" y="556.3" text-anchor="middle">0</text>
<text x="1428.18" y="556.3" text-anchor="middle">10</text>
<text x="1504.36" y="556.3" text-anchor="middle">20</text>
<text x="1580.54" y="556.3" text-anchor="middle">30</text>
<text x="1656.72" y="556.3" text-anchor="middle">40</text>
<text x="1732.90" y="556.3" text-anchor="middle">50</text>
<text x="1329.50" y="517.65" text-anchor="end">-0.10</text>
<text x="1329.50" y="422.21" text-anchor="end">-0.05</text>
<text x="1329.50" y="326.78" text-anchor="end">0.00</text>
<text x="1329.50" y="231.34" text-anchor="end">0.05</text>
<text x="1329.50" y="135.90" text-anchor="end">0.10</text>
</g>
<text x="1542.65" y="603" text-anchor="middle" font-weight="700" font-size="31.2" stroke="#000" stroke-width="0.5">HAMD</text>
<text transform="translate(1246.40 316.98) rotate(-90)" text-anchor="middle" font-weight="700" font-size="31.2" stroke="#000" stroke-width="0.5">EC</text>
<text transform="translate(1181.5 63.8) scale(0.927 1)" font-weight="700" font-size="87" id="letC">C</text>
<text x="1375" y="92.6" font-size="53.3" letter-spacing="-0.34" id="titC">For Recurrent</text>
</g>
</svg>
</body></html>
